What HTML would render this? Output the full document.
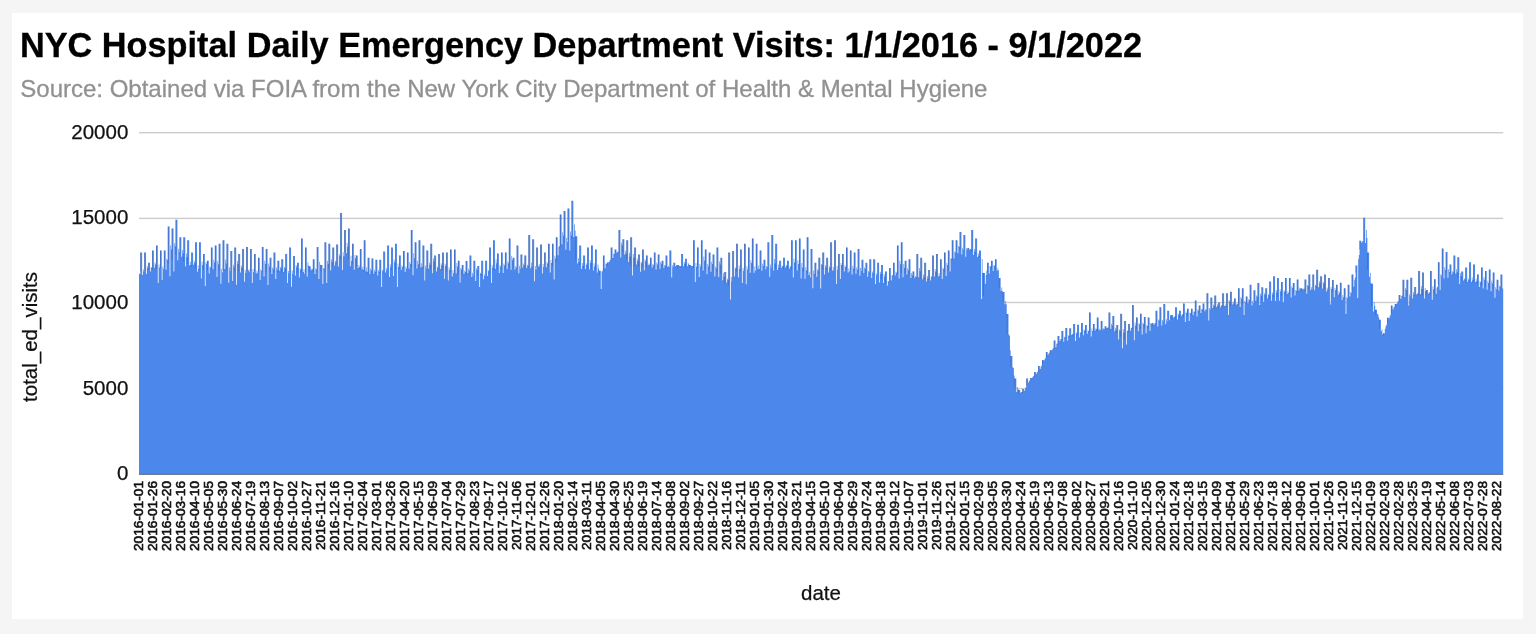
<!DOCTYPE html>
<html><head><meta charset="utf-8"><title>NYC Hospital Daily Emergency Department Visits</title>
<style>
html,body{margin:0;padding:0}
body{width:1536px;height:634px;background:#f5f5f5;overflow:hidden;position:relative;font-family:"Liberation Sans",Arial,sans-serif}
#panel{position:absolute;left:12px;top:13px;width:1510.5px;height:606px;background:#fff}
h1{position:absolute;left:19.9px;top:24.6px;-webkit-text-stroke:0.3px #000;margin:0;font-size:34.3px;line-height:40px;font-weight:bold;color:#000;white-space:nowrap}
h2{position:absolute;left:20.3px;top:73.7px;-webkit-text-stroke:0.3px #919191;margin:0;font-size:24px;line-height:30px;font-weight:normal;color:#919191;white-space:nowrap}
svg{position:absolute;left:0;top:0;filter:blur(0.45px)}
h1,h2{filter:blur(0.45px)}
svg text{font-family:"Liberation Sans",Arial,sans-serif}
</style></head><body>
<div id="panel"></div>
<h1>NYC Hospital Daily Emergency Department Visits: 1/1/2016 - 9/1/2022</h1>
<h2>Source: Obtained via FOIA from the New York City Department of Health &amp; Mental Hygiene</h2>
<svg width="1536" height="634" viewBox="0 0 1536 634">
<g><rect x="139" y="132.0" width="1364.2" height="1.4" fill="#ccc"/><rect x="139" y="217.7" width="1364.2" height="1.4" fill="#ccc"/><rect x="139" y="301.8" width="1364.2" height="1.4" fill="#ccc"/><rect x="139" y="387.9" width="1364.2" height="1.4" fill="#ccc"/></g>
<path fill="#4c87ec" d="M139.00 273.8H140.38V474.5H139.00zM140.38 252.6H142.13V474.5H140.38zM142.13 275.1H142.93V474.5H142.13zM142.93 269.3H143.62V474.5H142.93zM143.62 271.5H144.30V474.5H143.62zM144.30 252.6H146.05V474.5H144.30zM146.05 273.9H146.85V474.5H146.05zM146.85 266.0H147.54V474.5H146.85zM147.54 268.1H148.22V474.5H147.54zM148.22 262.8H149.97V474.5H148.22zM149.97 271.4H150.77V474.5H149.97zM150.77 267.1H151.46V474.5H150.77zM151.46 267.8H152.14V474.5H151.46zM152.14 250.5H153.89V474.5H152.14zM153.89 267.7H154.69V474.5H153.89zM154.69 262.4H155.38V474.5H154.69zM155.38 264.6H156.06V474.5H155.38zM156.06 245.4H157.81V474.5H156.06zM157.81 282.9H158.61V474.5H157.81zM158.61 264.5H159.30V474.5H158.61zM159.30 267.4H159.98V474.5H159.30zM159.98 250.5H161.73V474.5H159.98zM161.73 280.0H162.53V474.5H161.73zM162.53 266.6H163.22V474.5H162.53zM163.22 268.8H163.90V474.5H163.22zM163.90 250.5H165.65V474.5H163.90zM165.65 269.8H166.45V474.5H165.65zM166.45 258.8H167.14V474.5H166.45zM167.14 260.0H167.82V474.5H167.14zM167.82 226.5H169.57V474.5H167.82zM169.57 276.3H170.37V474.5H169.57zM170.37 245.6H171.06V474.5H170.37zM171.06 249.6H171.74V474.5H171.06zM171.74 228.6H173.49V474.5H171.74zM173.49 271.6H174.29V474.5H173.49zM174.29 243.3H174.98V474.5H174.29zM174.98 246.2H175.66V474.5H174.98zM175.66 219.7H177.41V474.5H175.66zM177.41 260.3H178.21V474.5H177.41zM178.21 248.7H178.90V474.5H178.21zM178.90 252.2H179.58V474.5H178.90zM179.58 237.2H181.33V474.5H179.58zM181.33 256.7H182.13V474.5H181.33zM182.13 250.0H182.82V474.5H182.13zM182.82 253.4H183.50V474.5H182.82zM183.50 237.2H185.25V474.5H183.50zM185.25 266.4H186.05V474.5H185.25zM186.05 253.4H186.74V474.5H186.05zM186.74 256.9H187.42V474.5H186.74zM187.42 240.3H189.17V474.5H187.42zM189.17 265.3H189.97V474.5H189.17zM189.97 261.7H190.66V474.5H189.97zM190.66 265.1H191.34V474.5H190.66zM191.34 252.6H193.09V474.5H191.34zM193.09 264.8H193.89V474.5H193.09zM193.89 260.8H194.58V474.5H193.89zM194.58 262.9H195.26V474.5H194.58zM195.26 242.3H197.01V474.5H195.26zM197.01 271.8H197.81V474.5H197.01zM197.81 265.2H198.50V474.5H197.81zM198.50 269.0H199.18V474.5H198.50zM199.18 242.3H200.93V474.5H199.18zM200.93 278.6H201.73V474.5H200.93zM201.73 261.5H202.42V474.5H201.73zM202.42 265.1H203.10V474.5H202.42zM203.10 254.0H204.85V474.5H203.10zM204.85 286.0H205.65V474.5H204.85zM205.65 261.8H206.34V474.5H205.65zM206.34 263.8H207.02V474.5H206.34zM207.02 260.8H208.77V474.5H207.02zM208.77 273.6H209.57V474.5H208.77zM209.57 266.4H210.26V474.5H209.57zM210.26 267.5H210.94V474.5H210.26zM210.94 247.4H212.69V474.5H210.94zM212.69 269.2H213.49V474.5H212.69zM213.49 259.7H214.18V474.5H213.49zM214.18 262.6H214.86V474.5H214.18zM214.86 245.4H216.61V474.5H214.86zM216.61 277.1H217.41V474.5H216.61zM217.41 261.1H218.10V474.5H217.41zM218.10 264.3H218.78V474.5H218.10zM218.78 243.7H220.53V474.5H218.78zM220.53 283.8H221.33V474.5H220.53zM221.33 268.9H222.02V474.5H221.33zM222.02 272.3H222.70V474.5H222.02zM222.70 240.3H224.45V474.5H222.70zM224.45 268.9H225.25V474.5H224.45zM225.25 259.4H225.94V474.5H225.25zM225.94 263.4H226.62V474.5H225.94zM226.62 243.7H228.37V474.5H226.62zM228.37 282.7H229.17V474.5H228.37zM229.17 267.2H229.86V474.5H229.17zM229.86 270.7H230.54V474.5H229.86zM230.54 250.9H232.29V474.5H230.54zM232.29 281.1H233.09V474.5H232.29zM233.09 264.8H233.78V474.5H233.09zM233.78 267.3H234.46V474.5H233.78zM234.46 247.4H236.21V474.5H234.46zM236.21 284.7H237.01V474.5H236.21zM237.01 260.9H237.70V474.5H237.01zM237.70 263.9H238.38V474.5H237.70zM238.38 254.0H240.13V474.5H238.38zM240.13 272.6H240.93V474.5H240.13zM240.93 265.6H241.62V474.5H240.93zM241.62 267.7H242.30V474.5H241.62zM242.30 249.1H244.05V474.5H242.30zM244.05 281.8H244.85V474.5H244.05zM244.85 269.9H245.54V474.5H244.85zM245.54 272.7H246.22V474.5H245.54zM246.22 247.0H247.97V474.5H246.22zM247.97 270.5H248.77V474.5H247.97zM248.77 269.2H249.46V474.5H248.77zM249.46 272.3H250.14V474.5H249.46zM250.14 249.1H251.89V474.5H250.14zM251.89 283.0H252.69V474.5H251.89zM252.69 269.1H253.38V474.5H252.69zM253.38 272.0H254.06V474.5H253.38zM254.06 254.0H255.81V474.5H254.06zM255.81 273.4H256.61V474.5H255.81zM256.61 270.4H257.30V474.5H256.61zM257.30 272.7H257.98V474.5H257.30zM257.98 257.7H259.73V474.5H257.98zM259.73 280.0H260.53V474.5H259.73zM260.53 269.2H261.22V474.5H260.53zM261.22 270.9H261.90V474.5H261.22zM261.90 247.0H263.65V474.5H261.90zM263.65 276.4H264.45V474.5H263.65zM264.45 260.8H265.14V474.5H264.45zM265.14 264.0H265.82V474.5H265.14zM265.82 249.1H267.57V474.5H265.82zM267.57 284.9H268.37V474.5H267.57zM268.37 263.4H269.06V474.5H268.37zM269.06 266.4H269.74V474.5H269.06zM269.74 257.7H271.49V474.5H269.74zM271.49 274.0H272.29V474.5H271.49zM272.29 267.5H272.98V474.5H272.29zM272.98 269.3H273.66V474.5H272.98zM273.66 252.6H275.41V474.5H273.66zM275.41 279.0H276.21V474.5H275.41zM276.21 267.5H276.90V474.5H276.21zM276.90 270.0H277.58V474.5H276.90zM277.58 260.8H279.33V474.5H277.58zM279.33 270.8H280.13V474.5H279.33zM280.13 267.0H280.82V474.5H280.13zM280.82 268.3H281.50V474.5H280.82zM281.50 259.3H283.25V474.5H281.50zM283.25 272.0H284.05V474.5H283.25zM284.05 267.0H284.74V474.5H284.05zM284.74 268.6H285.42V474.5H284.74zM285.42 254.0H287.17V474.5H285.42zM287.17 283.0H287.97V474.5H287.17zM287.97 270.9H288.66V474.5H287.97zM288.66 273.3H289.34V474.5H288.66zM289.34 247.4H291.09V474.5H289.34zM291.09 286.8H291.89V474.5H291.09zM291.89 270.4H292.58V474.5H291.89zM292.58 273.7H293.26V474.5H292.58zM293.26 256.1H295.01V474.5H293.26zM295.01 275.4H295.81V474.5H295.01zM295.81 265.1H296.50V474.5H295.81zM296.50 267.2H297.18V474.5H296.50zM297.18 262.8H298.93V474.5H297.18zM298.93 277.4H299.73V474.5H298.93zM299.73 268.3H300.42V474.5H299.73zM300.42 269.4H301.10V474.5H300.42zM301.10 238.6H302.85V474.5H301.10zM302.85 272.0H303.65V474.5H302.85zM303.65 269.2H304.34V474.5H303.65zM304.34 273.7H305.02V474.5H304.34zM305.02 247.4H306.77V474.5H305.02zM306.77 276.7H307.57V474.5H306.77zM307.57 262.2H308.26V474.5H307.57zM308.26 265.4H308.94V474.5H308.26zM308.94 266.3H310.69V474.5H308.94zM310.69 270.2H311.49V474.5H310.69zM311.49 268.8H312.18V474.5H311.49zM312.18 269.3H312.87V474.5H312.18zM312.87 259.3H314.62V474.5H312.87zM314.62 274.1H315.42V474.5H314.62zM315.42 268.2H316.10V474.5H315.42zM316.10 269.6H316.79V474.5H316.10zM316.79 247.0H318.54V474.5H316.79zM318.54 279.1H319.34V474.5H318.54zM319.34 261.7H320.02V474.5H319.34zM320.02 264.8H320.71V474.5H320.02zM320.71 264.9H322.46V474.5H320.71zM322.46 284.0H323.26V474.5H322.46zM323.26 268.1H323.94V474.5H323.26zM323.94 268.7H324.63V474.5H323.94zM324.63 242.3H326.38V474.5H324.63zM326.38 283.1H327.18V474.5H326.38zM327.18 260.8H327.86V474.5H327.18zM327.86 263.9H328.55V474.5H327.86zM328.55 243.7H330.30V474.5H328.55zM330.30 270.6H331.10V474.5H330.30zM331.10 259.3H331.78V474.5H331.10zM331.78 262.0H332.47V474.5H331.78zM332.47 247.4H334.22V474.5H332.47zM334.22 265.5H335.02V474.5H334.22zM335.02 260.8H335.70V474.5H335.02zM335.70 262.6H336.39V474.5H335.70zM336.39 244.4H338.14V474.5H336.39zM338.14 266.6H338.94V474.5H338.14zM338.94 254.3H339.62V474.5H338.94zM339.62 256.2H340.31V474.5H339.62zM340.31 213.0H342.06V474.5H340.31zM342.06 270.1H342.86V474.5H342.06zM342.86 252.2H343.54V474.5H342.86zM343.54 256.3H344.23V474.5H343.54zM344.23 230.0H345.98V474.5H344.23zM345.98 253.3H346.78V474.5H345.98zM346.78 242.8H347.46V474.5H346.78zM347.46 246.8H348.15V474.5H347.46zM348.15 228.6H349.90V474.5H348.15zM349.90 266.3H350.70V474.5H349.90zM350.70 255.8H351.38V474.5H350.70zM351.38 261.0H352.07V474.5H351.38zM352.07 243.7H353.82V474.5H352.07zM353.82 269.8H354.62V474.5H353.82zM354.62 254.9H355.30V474.5H354.62zM355.30 258.0H355.99V474.5H355.30zM355.99 255.6H357.74V474.5H355.99zM357.74 268.1H358.54V474.5H357.74zM358.54 265.1H359.22V474.5H358.54zM359.22 266.9H359.91V474.5H359.22zM359.91 249.1H361.66V474.5H359.91zM361.66 269.3H362.46V474.5H361.66zM362.46 266.8H363.14V474.5H362.46zM363.14 269.8H363.83V474.5H363.14zM363.83 240.3H365.58V474.5H363.83zM365.58 271.6H366.38V474.5H365.58zM366.38 267.2H367.06V474.5H366.38zM367.06 271.8H367.75V474.5H367.06zM367.75 257.7H369.50V474.5H367.75zM369.50 273.9H370.30V474.5H369.50zM370.30 268.6H370.98V474.5H370.30zM370.98 270.6H371.67V474.5H370.98zM371.67 258.5H373.42V474.5H371.67zM373.42 273.7H374.22V474.5H373.42zM374.22 269.8H374.90V474.5H374.22zM374.90 271.7H375.59V474.5H374.90zM375.59 259.7H377.34V474.5H375.59zM377.34 275.6H378.14V474.5H377.34zM378.14 270.0H378.82V474.5H378.14zM378.82 271.8H379.51V474.5H378.82zM379.51 259.7H381.26V474.5H379.51zM381.26 287.0H382.06V474.5H381.26zM382.06 269.8H382.74V474.5H382.06zM382.74 271.2H383.43V474.5H382.74zM383.43 251.5H385.18V474.5H383.43zM385.18 272.4H385.98V474.5H385.18zM385.98 268.0H386.66V474.5H385.98zM386.66 270.2H387.35V474.5H386.66zM387.35 245.4H389.10V474.5H387.35zM389.10 277.0H389.90V474.5H389.10zM389.90 264.3H390.58V474.5H389.90zM390.58 267.4H391.27V474.5H390.58zM391.27 247.4H393.02V474.5H391.27zM393.02 275.9H393.82V474.5H393.02zM393.82 259.5H394.50V474.5H393.82zM394.50 262.3H395.19V474.5H394.50zM395.19 243.7H396.94V474.5H395.19zM396.94 287.0H397.74V474.5H396.94zM397.74 263.6H398.42V474.5H397.74zM398.42 266.9H399.11V474.5H398.42zM399.11 255.6H400.86V474.5H399.11zM400.86 269.8H401.66V474.5H400.86zM401.66 265.6H402.34V474.5H401.66zM402.34 267.1H403.03V474.5H402.34zM403.03 250.9H404.78V474.5H403.03zM404.78 272.0H405.58V474.5H404.78zM405.58 266.4H406.26V474.5H405.58zM406.26 268.5H406.95V474.5H406.26zM406.95 252.6H408.70V474.5H406.95zM408.70 268.8H409.50V474.5H408.70zM409.50 262.0H410.18V474.5H409.50zM410.18 263.9H410.87V474.5H410.18zM410.87 230.0H412.62V474.5H410.87zM412.62 275.2H413.42V474.5H412.62zM413.42 253.2H414.10V474.5H413.42zM414.10 258.3H414.79V474.5H414.10zM414.79 242.3H416.54V474.5H414.79zM416.54 268.6H417.34V474.5H416.54zM417.34 260.8H418.02V474.5H417.34zM418.02 264.2H418.71V474.5H418.02zM418.71 240.3H420.46V474.5H418.71zM420.46 267.6H421.26V474.5H420.46zM421.26 263.2H421.94V474.5H421.26zM421.94 266.9H422.63V474.5H421.94zM422.63 245.4H424.38V474.5H422.63zM424.38 280.4H425.18V474.5H424.38zM425.18 265.4H425.86V474.5H425.18zM425.86 268.4H426.55V474.5H425.86zM426.55 250.5H428.30V474.5H426.55zM428.30 268.8H429.10V474.5H428.30zM429.10 262.5H429.78V474.5H429.10zM429.78 264.8H430.47V474.5H429.78zM430.47 243.7H432.22V474.5H430.47zM432.22 273.2H433.02V474.5H432.22zM433.02 258.2H433.70V474.5H433.02zM433.70 261.4H434.39V474.5H433.70zM434.39 255.6H436.14V474.5H434.39zM436.14 271.5H436.94V474.5H436.14zM436.94 266.5H437.62V474.5H436.94zM437.62 268.1H438.31V474.5H437.62zM438.31 254.0H440.06V474.5H438.31zM440.06 269.0H440.86V474.5H440.06zM440.86 263.3H441.54V474.5H440.86zM441.54 265.4H442.23V474.5H441.54zM442.23 252.6H443.98V474.5H442.23zM443.98 278.8H444.78V474.5H443.98zM444.78 263.7H445.46V474.5H444.78zM445.46 266.1H446.15V474.5H445.46zM446.15 252.6H447.90V474.5H446.15zM447.90 280.6H448.70V474.5H447.90zM448.70 267.3H449.38V474.5H448.70zM449.38 269.9H450.07V474.5H449.38zM450.07 249.5H451.82V474.5H450.07zM451.82 276.6H452.62V474.5H451.82zM452.62 270.1H453.30V474.5H452.62zM453.30 273.3H453.99V474.5H453.30zM453.99 249.5H455.74V474.5H453.99zM455.74 273.4H456.54V474.5H455.74zM456.54 263.0H457.22V474.5H456.54zM457.22 266.4H457.91V474.5H457.22zM457.91 260.8H459.66V474.5H457.91zM459.66 282.4H460.46V474.5H459.66zM460.46 267.9H461.14V474.5H460.46zM461.14 269.6H461.83V474.5H461.14zM461.83 264.9H463.58V474.5H461.83zM463.58 273.9H464.38V474.5H463.58zM464.38 270.8H465.06V474.5H464.38zM465.06 272.0H465.75V474.5H465.06zM465.75 261.1H467.50V474.5H465.75zM467.50 273.3H468.30V474.5H467.50zM468.30 268.7H468.98V474.5H468.30zM468.98 270.5H469.67V474.5H468.98zM469.67 255.6H471.42V474.5H469.67zM471.42 277.1H472.22V474.5H471.42zM472.22 272.7H472.90V474.5H472.22zM472.90 275.3H473.59V474.5H472.90zM473.59 260.8H475.34V474.5H473.59zM475.34 281.1H476.14V474.5H475.34zM476.14 268.3H476.82V474.5H476.14zM476.82 270.1H477.51V474.5H476.82zM477.51 265.9H479.26V474.5H477.51zM479.26 287.0H480.06V474.5H479.26zM480.06 272.7H480.74V474.5H480.06zM480.74 273.8H481.43V474.5H480.74zM481.43 260.8H483.18V474.5H481.43zM483.18 279.2H483.98V474.5H483.18zM483.98 274.2H484.67V474.5H483.98zM484.67 276.1H485.35V474.5H484.67zM485.35 260.8H487.10V474.5H485.35zM487.10 276.0H487.90V474.5H487.10zM487.90 269.9H488.59V474.5H487.90zM488.59 271.2H489.27V474.5H488.59zM489.27 247.4H491.02V474.5H489.27zM491.02 283.0H491.82V474.5H491.02zM491.82 265.0H492.51V474.5H491.82zM492.51 267.8H493.19V474.5H492.51zM493.19 240.3H494.94V474.5H493.19zM494.94 268.7H495.74V474.5H494.94zM495.74 259.3H496.43V474.5H495.74zM496.43 263.2H497.11V474.5H496.43zM497.11 253.6H498.86V474.5H497.11zM498.86 272.9H499.66V474.5H498.86zM499.66 264.9H500.35V474.5H499.66zM500.35 266.8H501.03V474.5H500.35zM501.03 252.6H502.78V474.5H501.03zM502.78 273.1H503.58V474.5H502.78zM503.58 263.6H504.27V474.5H503.58zM504.27 265.6H504.95V474.5H504.27zM504.95 252.6H506.70V474.5H504.95zM506.70 269.0H507.50V474.5H506.70zM507.50 261.2H508.19V474.5H507.50zM508.19 263.2H508.87V474.5H508.19zM508.87 238.6H510.62V474.5H508.87zM510.62 269.8H511.42V474.5H510.62zM511.42 256.1H512.11V474.5H511.42zM512.11 259.9H512.79V474.5H512.11zM512.79 257.7H514.54V474.5H512.79zM514.54 269.5H515.34V474.5H514.54zM515.34 266.3H516.03V474.5H515.34zM516.03 267.5H516.71V474.5H516.03zM516.71 245.4H518.46V474.5H516.71zM518.46 273.2H519.26V474.5H518.46zM519.26 265.7H519.95V474.5H519.26zM519.95 268.5H520.63V474.5H519.95zM520.63 254.6H522.38V474.5H520.63zM522.38 267.4H523.18V474.5H522.38zM523.18 263.4H523.87V474.5H523.18zM523.87 264.9H524.55V474.5H523.87zM524.55 255.6H526.30V474.5H524.55zM526.30 268.1H527.10V474.5H526.30zM527.10 264.7H527.79V474.5H527.10zM527.79 266.0H528.47V474.5H527.79zM528.47 235.1H530.22V474.5H528.47zM530.22 268.3H531.02V474.5H530.22zM531.02 262.5H531.71V474.5H531.02zM531.71 266.7H532.39V474.5H531.71zM532.39 239.2H534.14V474.5H532.39zM534.14 281.2H534.94V474.5H534.14zM534.94 265.9H535.63V474.5H534.94zM535.63 269.5H536.31V474.5H535.63zM536.31 247.4H538.06V474.5H536.31zM538.06 266.4H538.86V474.5H538.06zM538.86 263.9H539.55V474.5H538.86zM539.55 266.3H540.23V474.5H539.55zM540.23 244.4H541.98V474.5H540.23zM541.98 273.5H542.78V474.5H541.98zM542.78 264.1H543.47V474.5H542.78zM543.47 266.9H544.15V474.5H543.47zM544.15 252.6H545.90V474.5H544.15zM545.90 267.2H546.70V474.5H545.90zM546.70 261.8H547.39V474.5H546.70zM547.39 263.4H548.07V474.5H547.39zM548.07 243.7H549.82V474.5H548.07zM549.82 272.4H550.62V474.5H549.82zM550.62 260.0H551.31V474.5H550.62zM551.31 262.9H551.99V474.5H551.31zM551.99 243.7H553.74V474.5H551.99zM553.74 279.4H554.54V474.5H553.74zM554.54 255.7H555.23V474.5H554.54zM555.23 258.5H555.91V474.5H555.23zM555.91 237.2H557.66V474.5H555.91zM557.66 255.2H558.46V474.5H557.66zM558.46 246.7H559.15V474.5H558.46zM559.15 245.9H559.83V474.5H559.15zM559.83 214.6H561.58V474.5H559.83zM561.58 244.3H562.38V474.5H561.58zM562.38 232.2H563.07V474.5H562.38zM563.07 235.4H563.75V474.5H563.07zM563.75 211.1H565.50V474.5H563.75zM565.50 249.7H566.30V474.5H565.50zM566.30 237.8H566.99V474.5H566.30zM566.99 241.4H567.67V474.5H566.99zM567.67 208.5H569.42V474.5H567.67zM569.42 250.5H570.22V474.5H569.42zM570.22 231.5H570.91V474.5H570.22zM570.91 235.4H571.59V474.5H570.91zM571.59 200.7H573.34V474.5H571.59zM573.34 236.9H574.14V474.5H573.34zM574.14 224.3H574.83V474.5H574.14zM574.83 230.4H575.51V474.5H574.83zM575.51 236.2H577.26V474.5H575.51zM577.26 263.4H578.06V474.5H577.26zM578.06 258.3H578.75V474.5H578.06zM578.75 262.0H579.43V474.5H578.75zM579.43 245.4H581.18V474.5H579.43zM581.18 269.0H581.98V474.5H581.18zM581.98 263.1H582.67V474.5H581.98zM582.67 266.2H583.35V474.5H582.67zM583.35 255.6H585.10V474.5H583.35zM585.10 269.0H585.90V474.5H585.10zM585.90 263.5H586.59V474.5H585.90zM586.59 265.1H587.27V474.5H586.59zM587.27 247.4H589.02V474.5H587.27zM589.02 269.3H589.82V474.5H589.02zM589.82 260.2H590.51V474.5H589.82zM590.51 263.0H591.19V474.5H590.51zM591.19 245.4H592.94V474.5H591.19zM592.94 270.5H593.74V474.5H592.94zM593.74 263.3H594.43V474.5H593.74zM594.43 266.4H595.11V474.5H594.43zM595.11 249.5H596.86V474.5H595.11zM596.86 272.5H597.66V474.5H596.86zM597.66 264.6H598.35V474.5H597.66zM598.35 268.6H599.03V474.5H598.35zM599.03 270.8H600.78V474.5H599.03zM600.78 289.0H601.58V474.5H600.78zM601.58 271.4H602.27V474.5H601.58zM602.27 270.7H602.95V474.5H602.27zM602.95 255.6H604.70V474.5H602.95zM604.70 268.3H605.50V474.5H604.70zM605.50 263.4H606.19V474.5H605.50zM606.19 264.0H606.87V474.5H606.19zM606.87 262.6H608.62V474.5H606.87zM608.62 261.9H609.42V474.5H608.62zM609.42 260.5H610.11V474.5H609.42zM610.11 259.7H610.79V474.5H610.11zM610.79 247.4H612.54V474.5H610.79zM612.54 258.1H613.34V474.5H612.54zM613.34 253.7H614.03V474.5H613.34zM614.03 253.9H614.71V474.5H614.03zM614.71 249.5H616.46V474.5H614.71zM616.46 252.8H617.26V474.5H616.46zM617.26 251.7H617.95V474.5H617.26zM617.95 251.8H618.63V474.5H617.95zM618.63 230.0H620.38V474.5H618.63zM620.38 257.6H621.18V474.5H620.38zM621.18 242.8H621.87V474.5H621.18zM621.87 245.6H622.55V474.5H621.87zM622.55 239.2H624.30V474.5H622.55zM624.30 254.4H625.10V474.5H624.30zM625.10 250.8H625.79V474.5H625.10zM625.79 253.7H626.47V474.5H625.79zM626.47 240.3H628.22V474.5H626.47zM628.22 262.1H629.02V474.5H628.22zM629.02 252.7H629.71V474.5H629.02zM629.71 256.5H630.39V474.5H629.71zM630.39 237.2H632.14V474.5H630.39zM632.14 275.6H632.94V474.5H632.14zM632.94 253.9H633.63V474.5H632.94zM633.63 257.7H634.31V474.5H633.63zM634.31 247.4H636.06V474.5H634.31zM636.06 264.4H636.86V474.5H636.06zM636.86 258.5H637.55V474.5H636.86zM637.55 260.9H638.23V474.5H637.55zM638.23 254.6H639.98V474.5H638.23zM639.98 271.8H640.78V474.5H639.98zM640.78 261.8H641.47V474.5H640.78zM641.47 263.2H642.15V474.5H641.47zM642.15 249.5H643.90V474.5H642.15zM643.90 270.3H644.70V474.5H643.90zM644.70 258.9H645.39V474.5H644.70zM645.39 261.1H646.07V474.5H645.39zM646.07 255.6H647.82V474.5H646.07zM647.82 265.3H648.62V474.5H647.82zM648.62 263.4H649.31V474.5H648.62zM649.31 264.7H649.99V474.5H649.31zM649.99 257.7H651.74V474.5H649.99zM651.74 267.4H652.54V474.5H651.74zM652.54 264.1H653.23V474.5H652.54zM653.23 265.2H653.92V474.5H653.23zM653.92 252.6H655.67V474.5H653.92zM655.67 269.6H656.47V474.5H655.67zM656.47 262.6H657.15V474.5H656.47zM657.15 264.5H657.84V474.5H657.15zM657.84 254.6H659.59V474.5H657.84zM659.59 268.7H660.39V474.5H659.59zM660.39 262.1H661.07V474.5H660.39zM661.07 263.7H661.76V474.5H661.07zM661.76 260.8H663.51V474.5H661.76zM663.51 267.9H664.31V474.5H663.51zM664.31 265.0H664.99V474.5H664.31zM664.99 265.8H665.68V474.5H664.99zM665.68 255.6H667.43V474.5H665.68zM667.43 267.0H668.23V474.5H667.43zM668.23 265.7H668.91V474.5H668.23zM668.91 267.2H669.60V474.5H668.91zM669.60 250.5H671.35V474.5H669.60zM671.35 277.4H672.15V474.5H671.35zM672.15 265.2H672.83V474.5H672.15zM672.83 267.4H673.52V474.5H672.83zM673.52 262.8H675.27V474.5H673.52zM675.27 266.2H676.07V474.5H675.27zM676.07 265.1H676.75V474.5H676.07zM676.75 265.5H677.44V474.5H676.75zM677.44 264.9H679.19V474.5H677.44zM679.19 266.0H679.99V474.5H679.19zM679.99 266.0H680.67V474.5H679.99zM680.67 266.2H681.36V474.5H680.67zM681.36 254.0H683.11V474.5H681.36zM683.11 266.2H683.91V474.5H683.11zM683.91 262.1H684.59V474.5H683.91zM684.59 263.8H685.28V474.5H684.59zM685.28 258.7H687.03V474.5H685.28zM687.03 266.3H687.83V474.5H687.03zM687.83 263.1H688.51V474.5H687.83zM688.51 264.2H689.20V474.5H688.51zM689.20 265.0H690.95V474.5H689.20zM690.95 266.1H691.75V474.5H690.95zM691.75 265.9H692.43V474.5H691.75zM692.43 266.1H693.12V474.5H692.43zM693.12 240.3H694.87V474.5H693.12zM694.87 282.0H695.67V474.5H694.87zM695.67 263.1H696.35V474.5H695.67zM696.35 266.7H697.04V474.5H696.35zM697.04 247.4H698.79V474.5H697.04zM698.79 277.1H699.59V474.5H698.79zM699.59 263.9H700.27V474.5H699.59zM700.27 266.6H700.96V474.5H700.27zM700.96 240.3H702.71V474.5H700.96zM702.71 270.4H703.51V474.5H702.71zM703.51 256.6H704.19V474.5H703.51zM704.19 260.4H704.88V474.5H704.19zM704.88 249.5H706.63V474.5H704.88zM706.63 274.2H707.43V474.5H706.63zM707.43 263.9H708.11V474.5H707.43zM708.11 266.5H708.80V474.5H708.11zM708.80 252.6H710.55V474.5H708.80zM710.55 271.8H711.35V474.5H710.55zM711.35 261.8H712.03V474.5H711.35zM712.03 264.1H712.72V474.5H712.03zM712.72 254.6H714.47V474.5H712.72zM714.47 276.6H715.27V474.5H714.47zM715.27 266.4H715.95V474.5H715.27zM715.95 268.5H716.64V474.5H715.95zM716.64 247.4H718.39V474.5H716.64zM718.39 276.9H719.19V474.5H718.39zM719.19 261.4H719.87V474.5H719.19zM719.87 264.6H720.56V474.5H719.87zM720.56 257.7H722.31V474.5H720.56zM722.31 280.3H723.11V474.5H722.31zM723.11 273.0H723.79V474.5H723.11zM723.79 276.6H724.48V474.5H723.79zM724.48 272.1H726.23V474.5H724.48zM726.23 282.4H727.03V474.5H726.23zM727.03 278.4H727.71V474.5H727.03zM727.71 280.0H728.40V474.5H727.71zM728.40 252.6H730.15V474.5H728.40zM730.15 299.4H730.95V474.5H730.15zM730.95 277.0H731.63V474.5H730.95zM731.63 281.6H732.32V474.5H731.63zM732.32 250.9H734.07V474.5H732.32zM734.07 276.5H734.87V474.5H734.07zM734.87 267.6H735.55V474.5H734.87zM735.55 268.6H736.24V474.5H735.55zM736.24 243.7H737.99V474.5H736.24zM737.99 277.5H738.79V474.5H737.99zM738.79 265.6H739.47V474.5H738.79zM739.47 269.1H740.16V474.5H739.47zM740.16 249.5H741.91V474.5H740.16zM741.91 283.0H742.71V474.5H741.91zM742.71 268.1H743.39V474.5H742.71zM743.39 270.8H744.08V474.5H743.39zM744.08 243.7H745.83V474.5H744.08zM745.83 284.3H746.63V474.5H745.83zM746.63 266.1H747.31V474.5H746.63zM747.31 269.4H748.00V474.5H747.31zM748.00 247.4H749.75V474.5H748.00zM749.75 272.7H750.55V474.5H749.75zM750.55 260.2H751.23V474.5H750.55zM751.23 262.9H751.92V474.5H751.23zM751.92 238.6H753.67V474.5H751.92zM753.67 272.8H754.47V474.5H753.67zM754.47 266.5H755.15V474.5H754.47zM755.15 270.4H755.84V474.5H755.15zM755.84 243.7H757.59V474.5H755.84zM757.59 268.7H758.39V474.5H757.59zM758.39 265.6H759.07V474.5H758.39zM759.07 268.7H759.76V474.5H759.07zM759.76 250.5H761.51V474.5H759.76zM761.51 270.8H762.31V474.5H761.51zM762.31 263.8H762.99V474.5H762.31zM762.99 266.0H763.68V474.5H762.99zM763.68 259.7H765.43V474.5H763.68zM765.43 269.2H766.23V474.5H765.43zM766.23 266.0H766.91V474.5H766.23zM766.91 266.9H767.60V474.5H766.91zM767.60 242.3H769.35V474.5H767.60zM769.35 276.8H770.15V474.5H769.35zM770.15 264.5H770.83V474.5H770.15zM770.83 267.9H771.52V474.5H770.83zM771.52 235.1H773.27V474.5H771.52zM773.27 270.5H774.07V474.5H773.27zM774.07 259.0H774.75V474.5H774.07zM774.75 263.4H775.44V474.5H774.75zM775.44 243.7H777.19V474.5H775.44zM777.19 269.9H777.99V474.5H777.19zM777.99 264.5H778.67V474.5H777.99zM778.67 267.7H779.36V474.5H778.67zM779.36 260.8H781.11V474.5H779.36zM781.11 267.8H781.91V474.5H781.11zM781.91 265.6H782.59V474.5H781.91zM782.59 266.5H783.28V474.5H782.59zM783.28 257.7H785.03V474.5H783.28zM785.03 267.4H785.83V474.5H785.03zM785.83 264.7H786.51V474.5H785.83zM786.51 266.0H787.20V474.5H786.51zM787.20 260.8H788.95V474.5H787.20zM788.95 268.8H789.75V474.5H788.95zM789.75 265.7H790.43V474.5H789.75zM790.43 266.7H791.12V474.5H790.43zM791.12 240.3H792.87V474.5H791.12zM792.87 277.4H793.67V474.5H792.87zM793.67 258.7H794.35V474.5H793.67zM794.35 262.6H795.04V474.5H794.35zM795.04 240.3H796.79V474.5H795.04zM796.79 270.6H797.59V474.5H796.79zM797.59 260.2H798.27V474.5H797.59zM798.27 264.1H798.96V474.5H798.27zM798.96 238.6H800.71V474.5H798.96zM800.71 278.6H801.51V474.5H800.71zM801.51 263.1H802.19V474.5H801.51zM802.19 267.5H802.88V474.5H802.19zM802.88 249.5H804.63V474.5H802.88zM804.63 278.8H805.43V474.5H804.63zM805.43 267.3H806.11V474.5H805.43zM806.11 270.3H806.80V474.5H806.11zM806.80 237.2H808.55V474.5H806.80zM808.55 274.9H809.35V474.5H808.55zM809.35 272.3H810.03V474.5H809.35zM810.03 277.2H810.72V474.5H810.03zM810.72 249.1H812.47V474.5H810.72zM812.47 288.3H813.27V474.5H812.47zM813.27 270.6H813.95V474.5H813.27zM813.95 274.0H814.64V474.5H813.95zM814.64 262.8H816.39V474.5H814.64zM816.39 276.8H817.19V474.5H816.39zM817.19 269.3H817.87V474.5H817.19zM817.87 270.7H818.56V474.5H817.87zM818.56 257.7H820.31V474.5H818.56zM820.31 288.5H821.11V474.5H820.31zM821.11 264.1H821.79V474.5H821.11zM821.79 265.0H822.48V474.5H821.79zM822.48 252.6H824.23V474.5H822.48zM824.23 274.6H825.03V474.5H824.23zM825.03 265.3H825.72V474.5H825.03zM825.72 267.4H826.40V474.5H825.72zM826.40 257.7H828.15V474.5H826.40zM828.15 272.6H828.95V474.5H828.15zM828.95 266.3H829.64V474.5H828.95zM829.64 267.7H830.32V474.5H829.64zM830.32 242.3H832.07V474.5H830.32zM832.07 270.5H832.87V474.5H832.07zM832.87 266.7H833.56V474.5H832.87zM833.56 270.3H834.24V474.5H833.56zM834.24 240.3H835.99V474.5H834.24zM835.99 284.0H836.79V474.5H835.99zM836.79 265.9H837.48V474.5H836.79zM837.48 269.8H838.16V474.5H837.48zM838.16 254.0H839.91V474.5H838.16zM839.91 279.0H840.71V474.5H839.91zM840.71 262.9H841.40V474.5H840.71zM841.40 264.9H842.08V474.5H841.40zM842.08 254.0H843.83V474.5H842.08zM843.83 271.4H844.63V474.5H843.83zM844.63 265.2H845.32V474.5H844.63zM845.32 267.1H846.00V474.5H845.32zM846.00 247.4H847.75V474.5H846.00zM847.75 272.4H848.55V474.5H847.75zM848.55 268.3H849.24V474.5H848.55zM849.24 271.2H849.92V474.5H849.24zM849.92 250.5H851.67V474.5H849.92zM851.67 274.4H852.47V474.5H851.67zM852.47 265.8H853.16V474.5H852.47zM853.16 268.5H853.84V474.5H853.16zM853.84 252.6H855.59V474.5H853.84zM855.59 273.7H856.39V474.5H855.59zM856.39 267.3H857.08V474.5H856.39zM857.08 269.7H857.76V474.5H857.08zM857.76 249.1H859.51V474.5H857.76zM859.51 275.7H860.31V474.5H859.51zM860.31 268.1H861.00V474.5H860.31zM861.00 271.2H861.68V474.5H861.00zM861.68 259.7H863.43V474.5H861.68zM863.43 273.0H864.23V474.5H863.43zM864.23 267.4H864.92V474.5H864.23zM864.92 269.0H865.60V474.5H864.92zM865.60 262.8H867.35V474.5H865.60zM867.35 276.7H868.15V474.5H867.35zM868.15 271.0H868.84V474.5H868.15zM868.84 272.4H869.52V474.5H868.84zM869.52 259.3H871.27V474.5H869.52zM871.27 277.9H872.07V474.5H871.27zM872.07 271.4H872.76V474.5H872.07zM872.76 273.4H873.44V474.5H872.76zM873.44 259.3H875.19V474.5H873.44zM875.19 284.1H875.99V474.5H875.19zM875.99 273.5H876.68V474.5H875.99zM876.68 275.5H877.36V474.5H876.68zM877.36 262.8H879.11V474.5H877.36zM879.11 282.5H879.91V474.5H879.11zM879.91 271.7H880.60V474.5H879.91zM880.60 273.9H881.28V474.5H880.60zM881.28 264.9H883.03V474.5H881.28zM883.03 283.1H883.83V474.5H883.03zM883.83 274.1H884.52V474.5H883.83zM884.52 276.5H885.20V474.5H884.52zM885.20 271.4H886.95V474.5H885.20zM886.95 285.7H887.75V474.5H886.95zM887.75 280.9H888.44V474.5H887.75zM888.44 281.2H889.12V474.5H888.44zM889.12 267.9H890.87V474.5H889.12zM890.87 280.6H891.67V474.5H890.87zM891.67 275.2H892.36V474.5H891.67zM892.36 275.3H893.04V474.5H892.36zM893.04 262.8H894.79V474.5H893.04zM894.79 275.6H895.59V474.5H894.79zM895.59 271.6H896.28V474.5H895.59zM896.28 272.8H896.96V474.5H896.28zM896.96 245.4H898.71V474.5H896.96zM898.71 278.6H899.51V474.5H898.71zM899.51 260.7H900.20V474.5H899.51zM900.20 264.2H900.88V474.5H900.20zM900.88 242.3H902.63V474.5H900.88zM902.63 277.2H903.43V474.5H902.63zM903.43 264.0H904.12V474.5H903.43zM904.12 267.7H904.80V474.5H904.12zM904.80 260.8H906.55V474.5H904.80zM906.55 274.5H907.35V474.5H906.55zM907.35 268.3H908.04V474.5H907.35zM908.04 270.2H908.72V474.5H908.04zM908.72 259.3H910.47V474.5H908.72zM910.47 277.9H911.27V474.5H910.47zM911.27 273.0H911.96V474.5H911.27zM911.96 275.4H912.64V474.5H911.96zM912.64 271.4H914.39V474.5H912.64zM914.39 277.9H915.19V474.5H914.39zM915.19 276.1H915.88V474.5H915.19zM915.88 276.9H916.56V474.5H915.88zM916.56 254.0H918.31V474.5H916.56zM918.31 277.3H919.11V474.5H918.31zM919.11 267.9H919.80V474.5H919.11zM919.80 271.2H920.48V474.5H919.80zM920.48 257.7H922.23V474.5H920.48zM922.23 279.3H923.03V474.5H922.23zM923.03 274.4H923.72V474.5H923.03zM923.72 277.2H924.40V474.5H923.72zM924.40 262.8H926.15V474.5H924.40zM926.15 281.5H926.95V474.5H926.15zM926.95 276.0H927.64V474.5H926.95zM927.64 278.2H928.32V474.5H927.64zM928.32 270.0H930.07V474.5H928.32zM930.07 280.4H930.87V474.5H930.07zM930.87 276.3H931.56V474.5H930.87zM931.56 277.1H932.24V474.5H931.56zM932.24 255.6H933.99V474.5H932.24zM933.99 276.4H934.79V474.5H933.99zM934.79 269.0H935.48V474.5H934.79zM935.48 271.5H936.16V474.5H935.48zM936.16 254.0H937.91V474.5H936.16zM937.91 276.6H938.71V474.5H937.91zM938.71 273.1H939.40V474.5H938.71zM939.40 275.5H940.08V474.5H939.40zM940.08 259.3H941.83V474.5H940.08zM941.83 278.9H942.63V474.5H941.83zM942.63 267.6H943.32V474.5H942.63zM943.32 269.0H944.00V474.5H943.32zM944.00 252.6H945.75V474.5H944.00zM945.75 276.1H946.55V474.5H945.75zM946.55 262.8H947.24V474.5H946.55zM947.24 264.9H947.92V474.5H947.24zM947.92 250.5H949.67V474.5H947.92zM949.67 271.4H950.47V474.5H949.67zM950.47 258.5H951.16V474.5H950.47zM951.16 258.4H951.84V474.5H951.16zM951.84 240.3H953.59V474.5H951.84zM953.59 258.6H954.39V474.5H953.59zM954.39 251.4H955.08V474.5H954.39zM955.08 252.6H955.76V474.5H955.08zM955.76 240.3H957.51V474.5H955.76zM957.51 253.2H958.31V474.5H957.51zM958.31 246.1H959.00V474.5H958.31zM959.00 246.7H959.68V474.5H959.00zM959.68 232.1H961.43V474.5H959.68zM961.43 254.5H962.23V474.5H961.43zM962.23 247.7H962.92V474.5H962.23zM962.92 250.1H963.60V474.5H962.92zM963.60 235.1H965.35V474.5H963.60zM965.35 256.7H966.15V474.5H965.35zM966.15 248.2H966.84V474.5H966.15zM966.84 250.2H967.52V474.5H966.84zM967.52 248.1H969.27V474.5H967.52zM969.27 249.8H970.07V474.5H969.27zM970.07 249.0H970.76V474.5H970.07zM970.76 249.2H971.44V474.5H970.76zM971.44 230.0H973.19V474.5H971.44zM973.19 255.1H973.99V474.5H973.19zM973.99 248.9H974.68V474.5H973.99zM974.68 251.8H975.36V474.5H974.68zM975.36 238.6H977.11V474.5H975.36zM977.11 257.1H977.91V474.5H977.11zM977.91 253.3H978.60V474.5H977.91zM978.60 255.8H979.28V474.5H978.60zM979.28 250.5H981.03V474.5H979.28zM981.03 299.0H981.83V474.5H981.03zM981.83 258.9H982.52V474.5H981.83zM982.52 272.7H983.20V474.5H982.52zM983.20 273.1H984.95V474.5H983.20zM984.95 283.7H985.75V474.5H984.95zM985.75 274.9H986.44V474.5H985.75zM986.44 270.7H987.12V474.5H986.44zM987.12 262.8H988.87V474.5H987.12zM988.87 273.4H989.67V474.5H988.87zM989.67 266.1H990.36V474.5H989.67zM990.36 266.6H991.04V474.5H990.36zM991.04 260.8H992.79V474.5H991.04zM992.79 271.1H993.59V474.5H992.79zM993.59 265.3H994.28V474.5H993.59zM994.28 265.8H994.97V474.5H994.28zM994.97 259.3H996.72V474.5H994.97zM996.72 270.6H997.52V474.5H996.72zM997.52 268.3H998.20V474.5H997.52zM998.20 270.2H998.89V474.5H998.20zM998.89 278.1H1000.64V474.5H998.89zM1000.64 290.7H1001.44V474.5H1000.64zM1001.44 287.5H1002.12V474.5H1001.44zM1002.12 291.1H1002.81V474.5H1002.12zM1002.81 292.0H1004.56V474.5H1002.81zM1004.56 304.2H1005.36V474.5H1004.56zM1005.36 301.0H1006.04V474.5H1005.36zM1006.04 304.3H1006.73V474.5H1006.04zM1006.73 313.9H1008.48V474.5H1006.73zM1008.48 334.5H1009.28V474.5H1008.48zM1009.28 335.8H1009.96V474.5H1009.28zM1009.96 350.3H1010.65V474.5H1009.96zM1010.65 356.0H1012.40V474.5H1010.65zM1012.40 367.2H1013.20V474.5H1012.40zM1013.20 368.0H1013.88V474.5H1013.20zM1013.88 375.5H1014.57V474.5H1013.88zM1014.57 378.5H1016.32V474.5H1014.57zM1016.32 392.0H1017.12V474.5H1016.32zM1017.12 387.0H1017.80V474.5H1017.12zM1017.80 389.3H1018.49V474.5H1017.80zM1018.49 389.9H1020.24V474.5H1018.49zM1020.24 392.7H1021.04V474.5H1020.24zM1021.04 392.1H1021.72V474.5H1021.04zM1021.72 392.1H1022.41V474.5H1021.72zM1022.41 389.0H1024.16V474.5H1022.41zM1024.16 390.7H1024.96V474.5H1024.16zM1024.96 388.6H1025.64V474.5H1024.96zM1025.64 387.0H1026.33V474.5H1025.64zM1026.33 378.5H1028.08V474.5H1026.33zM1028.08 382.4H1028.88V474.5H1028.08zM1028.88 380.8H1029.56V474.5H1028.88zM1029.56 380.5H1030.25V474.5H1029.56zM1030.25 377.9H1032.00V474.5H1030.25zM1032.00 377.6H1032.80V474.5H1032.00zM1032.80 376.6H1033.48V474.5H1032.80zM1033.48 376.0H1034.17V474.5H1033.48zM1034.17 372.0H1035.92V474.5H1034.17zM1035.92 373.8H1036.72V474.5H1035.92zM1036.72 372.2H1037.40V474.5H1036.72zM1037.40 371.6H1038.09V474.5H1037.40zM1038.09 366.0H1039.84V474.5H1038.09zM1039.84 369.1H1040.64V474.5H1039.84zM1040.64 366.6H1041.32V474.5H1040.64zM1041.32 365.6H1042.01V474.5H1041.32zM1042.01 359.9H1043.76V474.5H1042.01zM1043.76 360.6H1044.56V474.5H1043.76zM1044.56 359.0H1045.24V474.5H1044.56zM1045.24 357.8H1045.93V474.5H1045.24zM1045.93 352.0H1047.68V474.5H1045.93zM1047.68 354.7H1048.48V474.5H1047.68zM1048.48 353.2H1049.16V474.5H1048.48zM1049.16 352.8H1049.85V474.5H1049.16zM1049.85 350.3H1051.60V474.5H1049.85zM1051.60 350.0H1052.40V474.5H1051.60zM1052.40 348.7H1053.08V474.5H1052.40zM1053.08 348.1H1053.77V474.5H1053.08zM1053.77 340.5H1055.52V474.5H1053.77zM1055.52 347.2H1056.32V474.5H1055.52zM1056.32 343.8H1057.00V474.5H1056.32zM1057.00 343.6H1057.69V474.5H1057.00zM1057.69 336.1H1059.44V474.5H1057.69zM1059.44 340.9H1060.24V474.5H1059.44zM1060.24 339.3H1060.92V474.5H1060.24zM1060.92 339.1H1061.61V474.5H1060.92zM1061.61 331.0H1063.36V474.5H1061.61zM1063.36 341.7H1064.16V474.5H1063.36zM1064.16 336.7H1064.84V474.5H1064.16zM1064.84 337.4H1065.53V474.5H1064.84zM1065.53 328.0H1067.28V474.5H1065.53zM1067.28 340.7H1068.08V474.5H1067.28zM1068.08 335.2H1068.76V474.5H1068.08zM1068.76 336.1H1069.45V474.5H1068.76zM1069.45 328.2H1071.20V474.5H1069.45zM1071.20 335.1H1072.00V474.5H1071.20zM1072.00 333.8H1072.68V474.5H1072.00zM1072.68 334.6H1073.37V474.5H1072.68zM1073.37 324.1H1075.12V474.5H1073.37zM1075.12 341.0H1075.92V474.5H1075.12zM1075.92 332.4H1076.60V474.5H1075.92zM1076.60 333.6H1077.29V474.5H1076.60zM1077.29 324.7H1079.04V474.5H1077.29zM1079.04 337.6H1079.84V474.5H1079.04zM1079.84 331.9H1080.52V474.5H1079.84zM1080.52 332.9H1081.21V474.5H1080.52zM1081.21 323.1H1082.96V474.5H1081.21zM1082.96 335.2H1083.76V474.5H1082.96zM1083.76 329.5H1084.44V474.5H1083.76zM1084.44 330.6H1085.13V474.5H1084.44zM1085.13 325.1H1086.88V474.5H1085.13zM1086.88 333.8H1087.68V474.5H1086.88zM1087.68 330.3H1088.36V474.5H1087.68zM1088.36 331.0H1089.05V474.5H1088.36zM1089.05 312.4H1090.80V474.5H1089.05zM1090.80 336.5H1091.60V474.5H1090.80zM1091.60 328.6H1092.28V474.5H1091.60zM1092.28 331.1H1092.97V474.5H1092.28zM1092.97 324.1H1094.72V474.5H1092.97zM1094.72 330.6H1095.52V474.5H1094.72zM1095.52 328.3H1096.20V474.5H1095.52zM1096.20 329.0H1096.89V474.5H1096.20zM1096.89 317.5H1098.64V474.5H1096.89zM1098.64 330.3H1099.44V474.5H1098.64zM1099.44 328.7H1100.12V474.5H1099.44zM1100.12 330.2H1100.81V474.5H1100.12zM1100.81 321.0H1102.56V474.5H1100.81zM1102.56 329.5H1103.36V474.5H1102.56zM1103.36 328.3H1104.04V474.5H1103.36zM1104.04 329.3H1104.73V474.5H1104.04zM1104.73 326.2H1106.48V474.5H1104.73zM1106.48 328.1H1107.28V474.5H1106.48zM1107.28 327.5H1107.96V474.5H1107.28zM1107.96 327.6H1108.65V474.5H1107.96zM1108.65 312.4H1110.40V474.5H1108.65zM1110.40 329.1H1111.20V474.5H1110.40zM1111.20 323.7H1111.88V474.5H1111.20zM1111.88 325.7H1112.57V474.5H1111.88zM1112.57 315.9H1114.32V474.5H1112.57zM1114.32 331.2H1115.12V474.5H1114.32zM1115.12 327.7H1115.80V474.5H1115.12zM1115.80 329.9H1116.49V474.5H1115.80zM1116.49 325.1H1118.24V474.5H1116.49zM1118.24 339.5H1119.04V474.5H1118.24zM1119.04 329.4H1119.72V474.5H1119.04zM1119.72 330.7H1120.41V474.5H1119.72zM1120.41 313.8H1122.16V474.5H1120.41zM1122.16 348.2H1122.96V474.5H1122.16zM1122.96 329.0H1123.64V474.5H1122.96zM1123.64 332.7H1124.33V474.5H1123.64zM1124.33 321.0H1126.08V474.5H1124.33zM1126.08 344.6H1126.88V474.5H1126.08zM1126.88 330.4H1127.56V474.5H1126.88zM1127.56 330.9H1128.25V474.5H1127.56zM1128.25 324.1H1130.00V474.5H1128.25zM1130.00 330.7H1130.80V474.5H1130.00zM1130.80 327.6H1131.48V474.5H1130.80zM1131.48 328.1H1132.17V474.5H1131.48zM1132.17 305.0H1133.92V474.5H1132.17zM1133.92 340.3H1134.72V474.5H1133.92zM1134.72 322.5H1135.40V474.5H1134.72zM1135.40 325.6H1136.09V474.5H1135.40zM1136.09 317.5H1137.84V474.5H1136.09zM1137.84 331.3H1138.64V474.5H1137.84zM1138.64 323.0H1139.32V474.5H1138.64zM1139.32 324.3H1140.01V474.5H1139.32zM1140.01 313.8H1141.76V474.5H1140.01zM1141.76 334.5H1142.56V474.5H1141.76zM1142.56 322.4H1143.24V474.5H1142.56zM1143.24 324.1H1143.93V474.5H1143.24zM1143.93 317.0H1145.68V474.5H1143.93zM1145.68 333.2H1146.48V474.5H1145.68zM1146.48 324.9H1147.16V474.5H1146.48zM1147.16 326.1H1147.85V474.5H1147.16zM1147.85 317.5H1149.60V474.5H1147.85zM1149.60 331.0H1150.40V474.5H1149.60zM1150.40 323.1H1151.08V474.5H1150.40zM1151.08 323.9H1151.77V474.5H1151.08zM1151.77 323.1H1153.52V474.5H1151.77zM1153.52 324.8H1154.32V474.5H1153.52zM1154.32 323.4H1155.00V474.5H1154.32zM1155.00 323.2H1155.69V474.5H1155.00zM1155.69 310.8H1157.44V474.5H1155.69zM1157.44 326.6H1158.24V474.5H1157.44zM1158.24 319.4H1158.92V474.5H1158.24zM1158.92 320.6H1159.61V474.5H1158.92zM1159.61 307.3H1161.36V474.5H1159.61zM1161.36 325.5H1162.16V474.5H1161.36zM1162.16 319.9H1162.84V474.5H1162.16zM1162.84 321.5H1163.53V474.5H1162.84zM1163.53 304.0H1165.28V474.5H1163.53zM1165.28 324.3H1166.08V474.5H1165.28zM1166.08 319.3H1166.77V474.5H1166.08zM1166.77 321.3H1167.45V474.5H1166.77zM1167.45 310.8H1169.20V474.5H1167.45zM1169.20 320.2H1170.00V474.5H1169.20zM1170.00 315.0H1170.69V474.5H1170.00zM1170.69 315.9H1171.37V474.5H1170.69zM1171.37 314.9H1173.12V474.5H1171.37zM1173.12 317.7H1173.92V474.5H1173.12zM1173.92 316.6H1174.61V474.5H1173.92zM1174.61 316.8H1175.29V474.5H1174.61zM1175.29 307.3H1177.04V474.5H1175.29zM1177.04 319.6H1177.84V474.5H1177.04zM1177.84 313.6H1178.53V474.5H1177.84zM1178.53 314.7H1179.21V474.5H1178.53zM1179.21 310.8H1180.96V474.5H1179.21zM1180.96 316.1H1181.76V474.5H1180.96zM1181.76 313.9H1182.45V474.5H1181.76zM1182.45 314.4H1183.13V474.5H1182.45zM1183.13 303.6H1184.88V474.5H1183.13zM1184.88 322.1H1185.68V474.5H1184.88zM1185.68 311.6H1186.37V474.5H1185.68zM1186.37 313.0H1187.05V474.5H1186.37zM1187.05 308.7H1188.80V474.5H1187.05zM1188.80 321.0H1189.60V474.5H1188.80zM1189.60 312.8H1190.29V474.5H1189.60zM1190.29 313.3H1190.97V474.5H1190.29zM1190.97 308.7H1192.72V474.5H1190.97zM1192.72 315.1H1193.52V474.5H1192.72zM1193.52 311.4H1194.21V474.5H1193.52zM1194.21 311.8H1194.89V474.5H1194.21zM1194.89 300.5H1196.64V474.5H1194.89zM1196.64 316.4H1197.44V474.5H1196.64zM1197.44 309.4H1198.13V474.5H1197.44zM1198.13 310.8H1198.81V474.5H1198.13zM1198.81 305.6H1200.56V474.5H1198.81zM1200.56 313.0H1201.36V474.5H1200.56zM1201.36 309.0H1202.05V474.5H1201.36zM1202.05 309.5H1202.73V474.5H1202.05zM1202.73 303.6H1204.48V474.5H1202.73zM1204.48 311.2H1205.28V474.5H1204.48zM1205.28 309.2H1205.97V474.5H1205.28zM1205.97 309.9H1206.65V474.5H1205.97zM1206.65 293.3H1208.40V474.5H1206.65zM1208.40 320.5H1209.20V474.5H1208.40zM1209.20 308.1H1209.89V474.5H1209.20zM1209.89 310.1H1210.57V474.5H1209.89zM1210.57 297.4H1212.32V474.5H1210.57zM1212.32 307.9H1213.12V474.5H1212.32zM1213.12 304.4H1213.81V474.5H1213.12zM1213.81 305.7H1214.49V474.5H1213.81zM1214.49 295.4H1216.24V474.5H1214.49zM1216.24 307.0H1217.04V474.5H1216.24zM1217.04 304.3H1217.73V474.5H1217.04zM1217.73 305.7H1218.41V474.5H1217.73zM1218.41 302.6H1220.16V474.5H1218.41zM1220.16 307.4H1220.96V474.5H1220.16zM1220.96 305.3H1221.65V474.5H1220.96zM1221.65 305.6H1222.33V474.5H1221.65zM1222.33 293.3H1224.08V474.5H1222.33zM1224.08 305.9H1224.88V474.5H1224.08zM1224.88 304.5H1225.57V474.5H1224.88zM1225.57 306.1H1226.25V474.5H1225.57zM1226.25 293.3H1228.00V474.5H1226.25zM1228.00 315.0H1228.80V474.5H1228.00zM1228.80 300.1H1229.49V474.5H1228.80zM1229.49 301.6H1230.17V474.5H1229.49zM1230.17 291.7H1231.92V474.5H1230.17zM1231.92 304.5H1232.72V474.5H1231.92zM1232.72 301.8H1233.41V474.5H1232.72zM1233.41 303.5H1234.09V474.5H1233.41zM1234.09 298.5H1235.84V474.5H1234.09zM1235.84 304.8H1236.64V474.5H1235.84zM1236.64 303.2H1237.33V474.5H1236.64zM1237.33 303.9H1238.01V474.5H1237.33zM1238.01 288.2H1239.76V474.5H1238.01zM1239.76 307.1H1240.56V474.5H1239.76zM1240.56 296.9H1241.25V474.5H1240.56zM1241.25 298.8H1241.93V474.5H1241.25zM1241.93 288.2H1243.68V474.5H1241.93zM1243.68 315.0H1244.48V474.5H1243.68zM1244.48 300.7H1245.17V474.5H1244.48zM1245.17 302.5H1245.85V474.5H1245.17zM1245.85 296.4H1247.60V474.5H1245.85zM1247.60 303.2H1248.40V474.5H1247.60zM1248.40 299.3H1249.09V474.5H1248.40zM1249.09 299.9H1249.77V474.5H1249.09zM1249.77 284.7H1251.52V474.5H1249.77zM1251.52 305.6H1252.32V474.5H1251.52zM1252.32 300.8H1253.01V474.5H1252.32zM1253.01 302.9H1253.69V474.5H1253.01zM1253.69 290.3H1255.44V474.5H1253.69zM1255.44 300.8H1256.24V474.5H1255.44zM1256.24 295.5H1256.93V474.5H1256.24zM1256.93 296.7H1257.61V474.5H1256.93zM1257.61 283.1H1259.36V474.5H1257.61zM1259.36 305.1H1260.16V474.5H1259.36zM1260.16 293.7H1260.85V474.5H1260.16zM1260.85 295.8H1261.53V474.5H1260.85zM1261.53 287.2H1263.28V474.5H1261.53zM1263.28 301.7H1264.08V474.5H1263.28zM1264.08 293.3H1264.77V474.5H1264.08zM1264.77 294.7H1265.45V474.5H1264.77zM1265.45 288.2H1267.20V474.5H1265.45zM1267.20 298.6H1268.00V474.5H1267.20zM1268.00 294.2H1268.69V474.5H1268.00zM1268.69 295.3H1269.37V474.5H1268.69zM1269.37 281.4H1271.12V474.5H1269.37zM1271.12 300.7H1271.92V474.5H1271.12zM1271.92 292.5H1272.61V474.5H1271.92zM1272.61 294.5H1273.29V474.5H1272.61zM1273.29 276.3H1275.04V474.5H1273.29zM1275.04 300.9H1275.84V474.5H1275.04zM1275.84 290.1H1276.53V474.5H1275.84zM1276.53 292.6H1277.21V474.5H1276.53zM1277.21 277.9H1278.96V474.5H1277.21zM1278.96 300.8H1279.76V474.5H1278.96zM1279.76 289.2H1280.45V474.5H1279.76zM1280.45 291.4H1281.13V474.5H1280.45zM1281.13 282.1H1282.88V474.5H1281.13zM1282.88 302.2H1283.68V474.5H1282.88zM1283.68 290.2H1284.37V474.5H1283.68zM1284.37 291.7H1285.05V474.5H1284.37zM1285.05 277.9H1286.80V474.5H1285.05zM1286.80 293.9H1287.60V474.5H1286.80zM1287.60 291.2H1288.29V474.5H1287.60zM1288.29 293.0H1288.97V474.5H1288.29zM1288.97 277.9H1290.72V474.5H1288.97zM1290.72 297.4H1291.52V474.5H1290.72zM1291.52 286.2H1292.21V474.5H1291.52zM1292.21 288.0H1292.89V474.5H1292.21zM1292.89 283.1H1294.64V474.5H1292.89zM1294.64 295.5H1295.44V474.5H1294.64zM1295.44 289.9H1296.13V474.5H1295.44zM1296.13 290.9H1296.81V474.5H1296.13zM1296.81 279.6H1298.56V474.5H1296.81zM1298.56 290.5H1299.36V474.5H1298.56zM1299.36 287.4H1300.05V474.5H1299.36zM1300.05 288.8H1300.73V474.5H1300.05zM1300.73 288.2H1302.48V474.5H1300.73zM1302.48 289.5H1303.28V474.5H1302.48zM1303.28 288.8H1303.97V474.5H1303.28zM1303.97 288.8H1304.65V474.5H1303.97zM1304.65 279.6H1306.40V474.5H1304.65zM1306.40 293.8H1307.20V474.5H1306.40zM1307.20 284.9H1307.89V474.5H1307.20zM1307.89 286.0H1308.57V474.5H1307.89zM1308.57 274.5H1310.32V474.5H1308.57zM1310.32 290.3H1311.12V474.5H1310.32zM1311.12 287.3H1311.81V474.5H1311.12zM1311.81 288.9H1312.49V474.5H1311.81zM1312.49 274.5H1314.24V474.5H1312.49zM1314.24 290.3H1315.04V474.5H1314.24zM1315.04 284.7H1315.73V474.5H1315.04zM1315.73 286.2H1316.41V474.5H1315.73zM1316.41 269.7H1318.16V474.5H1316.41zM1318.16 287.3H1318.96V474.5H1318.16zM1318.96 281.2H1319.65V474.5H1318.96zM1319.65 283.2H1320.33V474.5H1319.65zM1320.33 276.3H1322.08V474.5H1320.33zM1322.08 288.6H1322.88V474.5H1322.08zM1322.88 281.9H1323.57V474.5H1322.88zM1323.57 283.4H1324.25V474.5H1323.57zM1324.25 274.5H1326.00V474.5H1324.25zM1326.00 291.6H1326.80V474.5H1326.00zM1326.80 287.5H1327.49V474.5H1326.80zM1327.49 289.5H1328.17V474.5H1327.49zM1328.17 277.9H1329.92V474.5H1328.17zM1329.92 304.6H1330.72V474.5H1329.92zM1330.72 287.1H1331.41V474.5H1330.72zM1331.41 289.0H1332.09V474.5H1331.41zM1332.09 280.0H1333.84V474.5H1332.09zM1333.84 297.3H1334.64V474.5H1333.84zM1334.64 288.1H1335.33V474.5H1334.64zM1335.33 290.0H1336.02V474.5H1335.33zM1336.02 284.7H1337.77V474.5H1336.02zM1337.77 294.8H1338.57V474.5H1337.77zM1338.57 291.2H1339.25V474.5H1338.57zM1339.25 292.8H1339.94V474.5H1339.25zM1339.94 282.8H1341.69V474.5H1339.94zM1341.69 300.1H1342.49V474.5H1341.69zM1342.49 295.1H1343.17V474.5H1342.49zM1343.17 297.2H1343.86V474.5H1343.17zM1343.86 288.2H1345.61V474.5H1343.86zM1345.61 314.0H1346.41V474.5H1345.61zM1346.41 297.2H1347.09V474.5H1346.41zM1347.09 298.3H1347.78V474.5H1347.09zM1347.78 284.7H1349.53V474.5H1347.78zM1349.53 296.5H1350.33V474.5H1349.53zM1350.33 292.1H1351.01V474.5H1350.33zM1351.01 293.1H1351.70V474.5H1351.01zM1351.70 274.6H1353.45V474.5H1351.70zM1353.45 286.5H1354.25V474.5H1353.45zM1354.25 279.7H1354.93V474.5H1354.25zM1354.93 277.4H1355.62V474.5H1354.93zM1355.62 265.4H1357.37V474.5H1355.62zM1357.37 298.0H1358.17V474.5H1357.37zM1358.17 258.9H1358.85V474.5H1358.17zM1358.85 254.9H1359.54V474.5H1358.85zM1359.54 240.8H1361.29V474.5H1359.54zM1361.29 242.8H1362.09V474.5H1361.29zM1362.09 241.4H1362.77V474.5H1362.09zM1362.77 240.4H1363.46V474.5H1362.77zM1363.46 217.8H1365.21V474.5H1363.46zM1365.21 243.0H1366.01V474.5H1365.21zM1366.01 229.9H1366.69V474.5H1366.01zM1366.69 238.0H1367.38V474.5H1366.69zM1367.38 252.4H1369.13V474.5H1367.38zM1369.13 276.8H1369.93V474.5H1369.13zM1369.93 272.8H1370.61V474.5H1369.93zM1370.61 282.7H1371.30V474.5H1370.61zM1371.30 283.8H1373.05V474.5H1371.30zM1373.05 311.4H1373.85V474.5H1373.05zM1373.85 302.0H1374.53V474.5H1373.85zM1374.53 306.0H1375.22V474.5H1374.53zM1375.22 309.7H1376.97V474.5H1375.22zM1376.97 313.7H1377.77V474.5H1376.97zM1377.77 314.5H1378.45V474.5H1377.77zM1378.45 317.2H1379.14V474.5H1378.45zM1379.14 319.7H1380.89V474.5H1379.14zM1380.89 331.3H1381.69V474.5H1380.89zM1381.69 329.3H1382.37V474.5H1381.69zM1382.37 334.6H1383.06V474.5H1382.37zM1383.06 333.3H1384.81V474.5H1383.06zM1384.81 328.8H1385.61V474.5H1384.81zM1385.61 326.1H1386.29V474.5H1385.61zM1386.29 324.4H1386.98V474.5H1386.29zM1386.98 317.7H1388.73V474.5H1386.98zM1388.73 318.2H1389.53V474.5H1388.73zM1389.53 316.3H1390.21V474.5H1389.53zM1390.21 314.8H1390.90V474.5H1390.21zM1390.90 305.4H1392.65V474.5H1390.90zM1392.65 309.5H1393.45V474.5H1392.65zM1393.45 307.3H1394.13V474.5H1393.45zM1394.13 306.8H1394.82V474.5H1394.13zM1394.82 303.9H1396.57V474.5H1394.82zM1396.57 303.6H1397.37V474.5H1396.57zM1397.37 301.8H1398.05V474.5H1397.37zM1398.05 301.0H1398.74V474.5H1398.05zM1398.74 295.0H1400.49V474.5H1398.74zM1400.49 299.0H1401.29V474.5H1400.49zM1401.29 296.0H1401.97V474.5H1401.29zM1401.97 295.5H1402.66V474.5H1401.97zM1402.66 279.7H1404.41V474.5H1402.66zM1404.41 297.1H1405.21V474.5H1404.41zM1405.21 287.9H1405.89V474.5H1405.21zM1405.89 289.9H1406.58V474.5H1405.89zM1406.58 279.7H1408.33V474.5H1406.58zM1408.33 305.4H1409.13V474.5H1408.33zM1409.13 294.2H1409.81V474.5H1409.13zM1409.81 296.2H1410.50V474.5H1409.81zM1410.50 277.7H1412.25V474.5H1410.50zM1412.25 298.5H1413.05V474.5H1412.25zM1413.05 292.1H1413.73V474.5H1413.05zM1413.73 294.4H1414.42V474.5H1413.73zM1414.42 286.9H1416.17V474.5H1414.42zM1416.17 294.4H1416.97V474.5H1416.17zM1416.97 292.9H1417.65V474.5H1416.97zM1417.65 293.9H1418.34V474.5H1417.65zM1418.34 270.9H1420.09V474.5H1418.34zM1420.09 294.0H1420.89V474.5H1420.09zM1420.89 285.9H1421.57V474.5H1420.89zM1421.57 289.1H1422.26V474.5H1421.57zM1422.26 272.6H1424.01V474.5H1422.26zM1424.01 298.4H1424.81V474.5H1424.01zM1424.81 288.0H1425.49V474.5H1424.81zM1425.49 290.9H1426.18V474.5H1425.49zM1426.18 290.0H1427.93V474.5H1426.18zM1427.93 293.7H1428.73V474.5H1427.93zM1428.73 292.3H1429.41V474.5H1428.73zM1429.41 292.6H1430.10V474.5H1429.41zM1430.10 270.9H1431.85V474.5H1430.10zM1431.85 299.8H1432.65V474.5H1431.85zM1432.65 286.3H1433.33V474.5H1432.65zM1433.33 289.3H1434.02V474.5H1433.33zM1434.02 279.3H1435.77V474.5H1434.02zM1435.77 293.8H1436.57V474.5H1435.77zM1436.57 287.5H1437.25V474.5H1436.57zM1437.25 286.7H1437.94V474.5H1437.25zM1437.94 262.3H1439.69V474.5H1437.94zM1439.69 290.0H1440.49V474.5H1439.69zM1440.49 274.3H1441.17V474.5H1440.49zM1441.17 275.4H1441.86V474.5H1441.17zM1441.86 248.6H1443.61V474.5H1441.86zM1443.61 278.5H1444.41V474.5H1443.61zM1444.41 267.2H1445.09V474.5H1444.41zM1445.09 270.1H1445.78V474.5H1445.09zM1445.78 252.1H1447.53V474.5H1445.78zM1447.53 277.8H1448.33V474.5H1447.53zM1448.33 269.3H1449.01V474.5H1448.33zM1449.01 272.0H1449.70V474.5H1449.01zM1449.70 264.4H1451.45V474.5H1449.70zM1451.45 274.5H1452.25V474.5H1451.45zM1452.25 271.3H1452.93V474.5H1452.25zM1452.93 272.4H1453.62V474.5H1452.93zM1453.62 255.5H1455.37V474.5H1453.62zM1455.37 273.7H1456.17V474.5H1455.37zM1456.17 269.3H1456.85V474.5H1456.17zM1456.85 272.3H1457.54V474.5H1456.85zM1457.54 257.2H1459.29V474.5H1457.54zM1459.29 284.1H1460.09V474.5H1459.29zM1460.09 273.1H1460.77V474.5H1460.09zM1460.77 276.3H1461.46V474.5H1460.77zM1461.46 271.5H1463.21V474.5H1461.46zM1463.21 280.5H1464.01V474.5H1463.21zM1464.01 278.5H1464.69V474.5H1464.01zM1464.69 279.6H1465.38V474.5H1464.69zM1465.38 267.4H1467.13V474.5H1465.38zM1467.13 281.8H1467.93V474.5H1467.13zM1467.93 278.4H1468.61V474.5H1467.93zM1468.61 280.2H1469.30V474.5H1468.61zM1469.30 262.3H1471.05V474.5H1469.30zM1471.05 282.1H1471.85V474.5H1471.05zM1471.85 277.6H1472.53V474.5H1471.85zM1472.53 280.3H1473.22V474.5H1472.53zM1473.22 264.4H1474.97V474.5H1473.22zM1474.97 281.9H1475.77V474.5H1474.97zM1475.77 278.8H1476.45V474.5H1475.77zM1476.45 281.3H1477.14V474.5H1476.45zM1477.14 274.6H1478.89V474.5H1477.14zM1478.89 287.0H1479.69V474.5H1478.89zM1479.69 280.9H1480.37V474.5H1479.69zM1480.37 282.2H1481.06V474.5H1480.37zM1481.06 267.4H1482.81V474.5H1481.06zM1482.81 288.6H1483.61V474.5H1482.81zM1483.61 277.2H1484.29V474.5H1483.61zM1484.29 279.7H1484.98V474.5H1484.29zM1484.98 270.9H1486.73V474.5H1484.98zM1486.73 289.7H1487.53V474.5H1486.73zM1487.53 280.7H1488.21V474.5H1487.53zM1488.21 282.9H1488.90V474.5H1488.21zM1488.90 269.5H1490.65V474.5H1488.90zM1490.65 291.2H1491.45V474.5H1490.65zM1491.45 280.8H1492.13V474.5H1491.45zM1492.13 283.3H1492.82V474.5H1492.13zM1492.82 272.6H1494.57V474.5H1492.82zM1494.57 297.8H1495.37V474.5H1494.57zM1495.37 287.2H1496.05V474.5H1495.37zM1496.05 289.3H1496.74V474.5H1496.05zM1496.74 279.7H1498.49V474.5H1496.74zM1498.49 290.6H1499.29V474.5H1498.49zM1499.29 285.7H1499.97V474.5H1499.29zM1499.97 286.8H1500.66V474.5H1499.97zM1500.66 274.6H1502.41V474.5H1500.66zM1502.41 288.4H1503.20V474.5H1502.41z"/>
<path fill="#3d5c9c" opacity="0.75" d="M140.38 252.6h.6V271.6h-.6zM144.30 252.6h.6V270.9h-.6zM148.22 262.8h.6V270.2h-.6zM152.14 250.5h.6V269.6h-.6zM156.06 245.4h.6V269.1h-.6zM159.98 250.5h.6V268.6h-.6zM163.90 250.5h.6V268.0h-.6zM167.82 226.5h.6V263.8h-.6zM171.74 228.6h.6V259.2h-.6zM175.66 219.7h.6V254.3h-.6zM179.58 237.2h.6V253.8h-.6zM183.50 237.2h.6V261.6h-.6zM187.42 240.3h.6V264.1h-.6zM191.34 252.6h.6V266.4h-.6zM195.26 242.3h.6V268.6h-.6zM199.18 242.3h.6V270.0h-.6zM203.10 254.0h.6V270.0h-.6zM207.02 260.8h.6V270.0h-.6zM210.94 247.4h.6V270.0h-.6zM214.86 245.4h.6V270.1h-.6zM218.78 243.7h.6V270.3h-.6zM222.70 240.3h.6V270.4h-.6zM226.62 243.7h.6V270.6h-.6zM230.54 250.9h.6V270.8h-.6zM234.46 247.4h.6V271.0h-.6zM238.38 254.0h.6V271.1h-.6zM242.30 249.1h.6V271.3h-.6zM246.22 247.0h.6V271.5h-.6zM250.14 249.1h.6V271.7h-.6zM254.06 254.0h.6V271.8h-.6zM257.98 257.7h.6V272.0h-.6zM261.90 247.0h.6V272.1h-.6zM265.82 249.1h.6V272.2h-.6zM269.74 257.7h.6V272.3h-.6zM273.66 252.6h.6V272.4h-.6zM277.58 260.8h.6V272.5h-.6zM281.50 259.3h.6V272.6h-.6zM285.42 254.0h.6V272.7h-.6zM289.34 247.4h.6V272.8h-.6zM293.26 256.1h.6V272.9h-.6zM297.18 262.8h.6V273.0h-.6zM301.10 238.6h.6V272.8h-.6zM305.02 247.4h.6V272.5h-.6zM308.94 266.3h.6V272.2h-.6zM312.87 259.3h.6V271.9h-.6zM316.79 247.0h.6V271.6h-.6zM320.71 264.9h.6V271.3h-.6zM324.63 242.3h.6V270.7h-.6zM328.55 243.7h.6V268.3h-.6zM332.47 247.4h.6V266.0h-.6zM336.39 244.4h.6V263.6h-.6zM340.31 213.0h.6V259.2h-.6zM344.23 230.0h.6V252.6h-.6zM348.15 228.6h.6V259.3h-.6zM352.07 243.7h.6V263.8h-.6zM355.99 255.6h.6V266.7h-.6zM359.91 249.1h.6V269.5h-.6zM363.83 240.3h.6V272.1h-.6zM367.75 257.7h.6V274.0h-.6zM371.67 258.5h.6V274.0h-.6zM375.59 259.7h.6V274.0h-.6zM379.51 259.7h.6V274.0h-.6zM383.43 251.5h.6V272.5h-.6zM387.35 245.4h.6V270.8h-.6zM391.27 247.4h.6V269.8h-.6zM395.19 243.7h.6V269.4h-.6zM399.11 255.6h.6V269.0h-.6zM403.03 250.9h.6V268.6h-.6zM406.95 252.6h.6V268.2h-.6zM410.87 230.0h.6V268.1h-.6zM414.79 242.3h.6V268.2h-.6zM418.71 240.3h.6V268.4h-.6zM422.63 245.4h.6V268.5h-.6zM426.55 250.5h.6V268.6h-.6zM430.47 243.7h.6V268.8h-.6zM434.39 255.6h.6V268.9h-.6zM438.31 254.0h.6V269.2h-.6zM442.23 252.6h.6V270.4h-.6zM446.15 252.6h.6V271.5h-.6zM450.07 249.5h.6V272.7h-.6zM453.99 249.5h.6V273.9h-.6zM457.91 260.8h.6V275.0h-.6zM461.83 264.9h.6V275.2h-.6zM465.75 261.1h.6V275.3h-.6zM469.67 255.6h.6V275.5h-.6zM473.59 260.8h.6V275.6h-.6zM477.51 265.9h.6V275.8h-.6zM481.43 260.8h.6V275.9h-.6zM485.35 260.8h.6V275.8h-.6zM489.27 247.4h.6V273.2h-.6zM493.19 240.3h.6V270.6h-.6zM497.11 253.6h.6V269.8h-.6zM501.03 252.6h.6V269.4h-.6zM504.95 252.6h.6V269.1h-.6zM508.87 238.6h.6V268.8h-.6zM512.79 257.7h.6V268.5h-.6zM516.71 245.4h.6V268.2h-.6zM520.63 254.6h.6V267.9h-.6zM524.55 255.6h.6V267.7h-.6zM528.47 235.1h.6V267.5h-.6zM532.39 239.2h.6V267.3h-.6zM536.31 247.4h.6V267.0h-.6zM540.23 244.4h.6V266.8h-.6zM544.15 252.6h.6V266.6h-.6zM548.07 243.7h.6V266.4h-.6zM551.99 243.7h.6V266.2h-.6zM555.91 237.2h.6V262.5h-.6zM559.83 214.6h.6V247.2h-.6zM563.75 211.1h.6V242.6h-.6zM567.67 208.5h.6V240.2h-.6zM571.59 200.7h.6V238.8h-.6zM575.51 236.2h.6V260.5h-.6zM579.43 245.4h.6V265.2h-.6zM583.35 255.6h.6V268.1h-.6zM587.27 247.4h.6V268.7h-.6zM591.19 245.4h.6V269.3h-.6zM595.11 249.5h.6V269.9h-.6zM599.03 270.8h.6V275.5h-.6zM602.95 255.6h.6V271.5h-.6zM606.87 262.6h.6V265.6h-.6zM610.79 247.4h.6V260.1h-.6zM614.71 249.5h.6V254.6h-.6zM618.63 230.0h.6V253.2h-.6zM622.55 239.2h.6V252.3h-.6zM626.47 240.3h.6V259.5h-.6zM630.39 237.2h.6V266.0h-.6zM634.31 247.4h.6V266.3h-.6zM638.23 254.6h.6V266.6h-.6zM642.15 249.5h.6V266.9h-.6zM646.07 255.6h.6V267.2h-.6zM649.99 257.7h.6V267.4h-.6zM653.92 252.6h.6V267.7h-.6zM657.84 254.6h.6V268.0h-.6zM661.76 260.8h.6V268.0h-.6zM665.68 255.6h.6V268.0h-.6zM669.60 250.5h.6V268.0h-.6zM673.52 262.8h.6V268.0h-.6zM677.44 264.9h.6V268.0h-.6zM681.36 254.0h.6V268.0h-.6zM685.28 258.7h.6V268.0h-.6zM689.20 265.0h.6V268.0h-.6zM693.12 240.3h.6V268.0h-.6zM697.04 247.4h.6V268.0h-.6zM700.96 240.3h.6V268.6h-.6zM704.88 249.5h.6V269.3h-.6zM708.80 252.6h.6V270.0h-.6zM712.72 254.6h.6V270.7h-.6zM716.64 247.4h.6V271.4h-.6zM720.56 257.7h.6V274.1h-.6zM724.48 272.1h.6V283.5h-.6zM728.40 252.6h.6V285.5h-.6zM732.32 250.9h.6V281.8h-.6zM736.24 243.7h.6V271.8h-.6zM740.16 249.5h.6V271.2h-.6zM744.08 243.7h.6V270.5h-.6zM748.00 247.4h.6V269.9h-.6zM751.92 238.6h.6V269.2h-.6zM755.84 243.7h.6V268.5h-.6zM759.76 250.5h.6V268.1h-.6zM763.68 259.7h.6V268.3h-.6zM767.60 242.3h.6V268.5h-.6zM771.52 235.1h.6V268.7h-.6zM775.44 243.7h.6V268.9h-.6zM779.36 260.8h.6V269.1h-.6zM783.28 257.7h.6V269.3h-.6zM787.20 260.8h.6V269.5h-.6zM791.12 240.3h.6V269.7h-.6zM795.04 240.3h.6V269.9h-.6zM798.96 238.6h.6V270.4h-.6zM802.88 249.5h.6V271.7h-.6zM806.80 237.2h.6V273.0h-.6zM810.72 249.1h.6V274.3h-.6zM814.64 262.8h.6V275.6h-.6zM818.56 257.7h.6V273.8h-.6zM822.48 252.6h.6V270.0h-.6zM826.40 257.7h.6V270.0h-.6zM830.32 242.3h.6V270.0h-.6zM834.24 240.3h.6V270.0h-.6zM838.16 254.0h.6V270.0h-.6zM842.08 254.0h.6V270.0h-.6zM846.00 247.4h.6V270.0h-.6zM849.92 250.5h.6V270.4h-.6zM853.84 252.6h.6V271.2h-.6zM857.76 249.1h.6V272.0h-.6zM861.68 259.7h.6V272.8h-.6zM865.60 262.8h.6V273.6h-.6zM869.52 259.3h.6V274.4h-.6zM873.44 259.3h.6V275.1h-.6zM877.36 262.8h.6V275.9h-.6zM881.28 264.9h.6V279.6h-.6zM885.20 271.4h.6V283.5h-.6zM889.12 267.9h.6V280.8h-.6zM893.04 262.8h.6V275.7h-.6zM896.96 245.4h.6V274.4h-.6zM900.88 242.3h.6V273.1h-.6zM904.80 260.8h.6V273.3h-.6zM908.72 259.3h.6V275.6h-.6zM912.64 271.4h.6V278.0h-.6zM916.56 254.0h.6V278.5h-.6zM920.48 257.7h.6V279.0h-.6zM924.40 262.8h.6V279.6h-.6zM928.32 270.0h.6V279.9h-.6zM932.24 255.6h.6V278.4h-.6zM936.16 254.0h.6V276.5h-.6zM940.08 259.3h.6V274.5h-.6zM944.00 252.6h.6V272.6h-.6zM947.92 250.5h.6V270.6h-.6zM951.84 240.3h.6V260.5h-.6zM955.76 240.3h.6V253.4h-.6zM959.68 232.1h.6V250.3h-.6zM963.60 235.1h.6V250.8h-.6zM967.52 248.1h.6V251.3h-.6zM971.44 230.0h.6V251.8h-.6zM975.36 238.6h.6V254.3h-.6zM979.28 250.5h.6V257.6h-.6zM983.20 273.1h.6V295.4h-.6zM987.12 262.8h.6V271.5h-.6zM991.04 260.8h.6V269.5h-.6zM994.97 259.3h.6V270.3h-.6zM998.89 278.1h.6V288.3h-.6zM1002.81 292.0h.6V301.8h-.6zM1006.73 313.9h.6V334.2h-.6zM1010.65 356.0h.6V367.1h-.6zM1014.57 378.5h.6V388.6h-.6zM1018.49 389.9h.6V394.5h-.6zM1022.41 389.0h.6V393.0h-.6zM1026.33 378.5h.6V386.1h-.6zM1030.25 377.9h.6V380.9h-.6zM1034.17 372.0h.6V377.0h-.6zM1038.09 366.0h.6V372.2h-.6zM1042.01 359.9h.6V365.1h-.6zM1045.93 352.0h.6V357.6h-.6zM1049.85 350.3h.6V353.3h-.6zM1053.77 340.5h.6V349.0h-.6zM1057.69 336.1h.6V344.2h-.6zM1061.61 331.0h.6V339.8h-.6zM1065.53 328.0h.6V338.5h-.6zM1069.45 328.2h.6V337.3h-.6zM1073.37 324.1h.6V336.2h-.6zM1077.29 324.7h.6V335.1h-.6zM1081.21 323.1h.6V334.0h-.6zM1085.13 325.1h.6V333.3h-.6zM1089.05 312.4h.6V332.7h-.6zM1092.97 324.1h.6V332.0h-.6zM1096.89 317.5h.6V331.4h-.6zM1100.81 321.0h.6V330.7h-.6zM1104.73 326.2h.6V330.1h-.6zM1108.65 312.4h.6V329.5h-.6zM1112.57 315.9h.6V330.3h-.6zM1116.49 325.1h.6V333.1h-.6zM1120.41 313.8h.6V336.7h-.6zM1124.33 321.0h.6V339.2h-.6zM1128.25 324.1h.6V332.2h-.6zM1132.17 305.0h.6V329.7h-.6zM1136.09 317.5h.6V329.3h-.6zM1140.01 313.8h.6V328.9h-.6zM1143.93 317.0h.6V328.5h-.6zM1147.85 317.5h.6V328.1h-.6zM1151.77 323.1h.6V326.7h-.6zM1155.69 310.8h.6V324.7h-.6zM1159.61 307.3h.6V322.8h-.6zM1163.53 304.0h.6V321.5h-.6zM1167.45 310.8h.6V320.6h-.6zM1171.37 314.9h.6V319.7h-.6zM1175.29 307.3h.6V318.9h-.6zM1179.21 310.8h.6V318.0h-.6zM1183.13 303.6h.6V317.0h-.6zM1187.05 308.7h.6V316.0h-.6zM1190.97 308.7h.6V315.0h-.6zM1194.89 300.5h.6V314.1h-.6zM1198.81 305.6h.6V313.1h-.6zM1202.73 303.6h.6V312.1h-.6zM1206.65 293.3h.6V311.1h-.6zM1210.57 297.4h.6V310.1h-.6zM1214.49 295.4h.6V309.2h-.6zM1218.41 302.6h.6V308.2h-.6zM1222.33 293.3h.6V307.5h-.6zM1226.25 293.3h.6V306.9h-.6zM1230.17 291.7h.6V306.3h-.6zM1234.09 298.5h.6V305.8h-.6zM1238.01 288.2h.6V305.2h-.6zM1241.93 288.2h.6V304.4h-.6zM1245.85 296.4h.6V303.7h-.6zM1249.77 284.7h.6V302.9h-.6zM1253.69 290.3h.6V302.1h-.6zM1257.61 283.1h.6V301.3h-.6zM1261.53 287.2h.6V300.5h-.6zM1265.45 288.2h.6V299.7h-.6zM1269.37 281.4h.6V298.9h-.6zM1273.29 276.3h.6V298.0h-.6zM1277.21 277.9h.6V297.0h-.6zM1281.13 282.1h.6V296.0h-.6zM1285.05 277.9h.6V295.0h-.6zM1288.97 277.9h.6V294.0h-.6zM1292.89 283.1h.6V293.2h-.6zM1296.81 279.6h.6V292.5h-.6zM1300.73 288.2h.6V291.7h-.6zM1304.65 279.6h.6V290.9h-.6zM1308.57 274.5h.6V289.8h-.6zM1312.49 274.5h.6V288.8h-.6zM1316.41 269.7h.6V287.7h-.6zM1320.33 276.3h.6V287.8h-.6zM1324.25 274.5h.6V289.0h-.6zM1328.17 277.9h.6V290.3h-.6zM1332.09 280.0h.6V292.6h-.6zM1336.02 284.7h.6V295.0h-.6zM1339.94 282.8h.6V297.3h-.6zM1343.86 288.2h.6V299.5h-.6zM1347.78 284.7h.6V298.7h-.6zM1351.70 274.6h.6V293.0h-.6zM1355.62 265.4h.6V272.6h-.6zM1359.54 240.8h.6V249.5h-.6zM1363.46 217.8h.6V240.0h-.6zM1367.38 252.4h.6V269.8h-.6zM1371.30 283.8h.6V305.9h-.6zM1375.22 309.7h.6V315.2h-.6zM1379.14 319.7h.6V328.8h-.6zM1383.06 333.3h.6V336.3h-.6zM1386.98 317.7h.6V323.2h-.6zM1390.90 305.4h.6V313.8h-.6zM1394.82 303.9h.6V306.9h-.6zM1398.74 295.0h.6V301.5h-.6zM1402.66 279.7h.6V296.6h-.6zM1406.58 279.7h.6V296.0h-.6zM1410.50 277.7h.6V296.0h-.6zM1414.42 286.9h.6V296.0h-.6zM1418.34 270.9h.6V296.0h-.6zM1422.26 272.6h.6V295.6h-.6zM1426.18 290.0h.6V295.1h-.6zM1430.10 270.9h.6V294.6h-.6zM1434.02 279.3h.6V294.1h-.6zM1437.94 262.3h.6V284.2h-.6zM1441.86 248.6h.6V275.6h-.6zM1445.78 252.1h.6V272.6h-.6zM1449.70 264.4h.6V273.4h-.6zM1453.62 255.5h.6V274.8h-.6zM1457.54 257.2h.6V278.1h-.6zM1461.46 271.5h.6V280.4h-.6zM1465.38 267.4h.6V281.3h-.6zM1469.30 262.3h.6V282.2h-.6zM1473.22 264.4h.6V283.2h-.6zM1477.14 274.6h.6V284.5h-.6zM1481.06 267.4h.6V285.8h-.6zM1484.98 270.9h.6V287.1h-.6zM1488.90 269.5h.6V288.2h-.6zM1492.82 272.6h.6V288.8h-.6zM1496.74 279.7h.6V289.4h-.6zM1500.66 274.6h.6V290.0h-.6z"/>
<rect x="139" y="473.9" width="1364.2" height="1" fill="#333" opacity="0.55"/>
<g font-size="20.5" fill="#111" stroke="#111" stroke-width="0.25"><text x="128.3" y="138.7" text-anchor="end">20000</text><text x="128.3" y="224.4" text-anchor="end">15000</text><text x="128.3" y="308.7" text-anchor="end">10000</text><text x="128.3" y="394.6" text-anchor="end">5000</text><text x="128.3" y="479.6" text-anchor="end">0</text></g>
<g font-size="13.7" fill="#111" stroke="#111" stroke-width="0.6"><text transform="translate(139.28 481.0) rotate(-90)" text-anchor="end" dy="0.28em">2016-01-01</text><text transform="translate(153.28 481.0) rotate(-90)" text-anchor="end" dy="0.28em">2016-01-26</text><text transform="translate(167.28 481.0) rotate(-90)" text-anchor="end" dy="0.28em">2016-02-20</text><text transform="translate(181.28 481.0) rotate(-90)" text-anchor="end" dy="0.28em">2016-03-16</text><text transform="translate(195.28 481.0) rotate(-90)" text-anchor="end" dy="0.28em">2016-04-10</text><text transform="translate(209.28 481.0) rotate(-90)" text-anchor="end" dy="0.28em">2016-05-05</text><text transform="translate(223.28 481.0) rotate(-90)" text-anchor="end" dy="0.28em">2016-05-30</text><text transform="translate(237.28 481.0) rotate(-90)" text-anchor="end" dy="0.28em">2016-06-24</text><text transform="translate(251.28 481.0) rotate(-90)" text-anchor="end" dy="0.28em">2016-07-19</text><text transform="translate(265.28 481.0) rotate(-90)" text-anchor="end" dy="0.28em">2016-08-13</text><text transform="translate(279.28 481.0) rotate(-90)" text-anchor="end" dy="0.28em">2016-09-07</text><text transform="translate(293.28 481.0) rotate(-90)" text-anchor="end" dy="0.28em">2016-10-02</text><text transform="translate(307.28 481.0) rotate(-90)" text-anchor="end" dy="0.28em">2016-10-27</text><text transform="translate(321.29 481.0) rotate(-90)" text-anchor="end" dy="0.28em">2016-11-21</text><text transform="translate(335.29 481.0) rotate(-90)" text-anchor="end" dy="0.28em">2016-12-16</text><text transform="translate(349.29 481.0) rotate(-90)" text-anchor="end" dy="0.28em">2017-01-10</text><text transform="translate(363.29 481.0) rotate(-90)" text-anchor="end" dy="0.28em">2017-02-04</text><text transform="translate(377.29 481.0) rotate(-90)" text-anchor="end" dy="0.28em">2017-03-01</text><text transform="translate(391.29 481.0) rotate(-90)" text-anchor="end" dy="0.28em">2017-03-26</text><text transform="translate(405.29 481.0) rotate(-90)" text-anchor="end" dy="0.28em">2017-04-20</text><text transform="translate(419.29 481.0) rotate(-90)" text-anchor="end" dy="0.28em">2017-05-15</text><text transform="translate(433.29 481.0) rotate(-90)" text-anchor="end" dy="0.28em">2017-06-09</text><text transform="translate(447.29 481.0) rotate(-90)" text-anchor="end" dy="0.28em">2017-07-04</text><text transform="translate(461.29 481.0) rotate(-90)" text-anchor="end" dy="0.28em">2017-07-29</text><text transform="translate(475.29 481.0) rotate(-90)" text-anchor="end" dy="0.28em">2017-08-23</text><text transform="translate(489.29 481.0) rotate(-90)" text-anchor="end" dy="0.28em">2017-09-17</text><text transform="translate(503.29 481.0) rotate(-90)" text-anchor="end" dy="0.28em">2017-10-12</text><text transform="translate(517.29 481.0) rotate(-90)" text-anchor="end" dy="0.28em">2017-11-06</text><text transform="translate(531.29 481.0) rotate(-90)" text-anchor="end" dy="0.28em">2017-12-01</text><text transform="translate(545.29 481.0) rotate(-90)" text-anchor="end" dy="0.28em">2017-12-26</text><text transform="translate(559.29 481.0) rotate(-90)" text-anchor="end" dy="0.28em">2018-01-20</text><text transform="translate(573.29 481.0) rotate(-90)" text-anchor="end" dy="0.28em">2018-02-14</text><text transform="translate(587.29 481.0) rotate(-90)" text-anchor="end" dy="0.28em">2018-03-11</text><text transform="translate(601.29 481.0) rotate(-90)" text-anchor="end" dy="0.28em">2018-04-05</text><text transform="translate(615.29 481.0) rotate(-90)" text-anchor="end" dy="0.28em">2018-04-30</text><text transform="translate(629.29 481.0) rotate(-90)" text-anchor="end" dy="0.28em">2018-05-25</text><text transform="translate(643.29 481.0) rotate(-90)" text-anchor="end" dy="0.28em">2018-06-19</text><text transform="translate(657.30 481.0) rotate(-90)" text-anchor="end" dy="0.28em">2018-07-14</text><text transform="translate(671.30 481.0) rotate(-90)" text-anchor="end" dy="0.28em">2018-08-08</text><text transform="translate(685.30 481.0) rotate(-90)" text-anchor="end" dy="0.28em">2018-09-02</text><text transform="translate(699.30 481.0) rotate(-90)" text-anchor="end" dy="0.28em">2018-09-27</text><text transform="translate(713.30 481.0) rotate(-90)" text-anchor="end" dy="0.28em">2018-10-22</text><text transform="translate(727.30 481.0) rotate(-90)" text-anchor="end" dy="0.28em">2018-11-16</text><text transform="translate(741.30 481.0) rotate(-90)" text-anchor="end" dy="0.28em">2018-12-11</text><text transform="translate(755.30 481.0) rotate(-90)" text-anchor="end" dy="0.28em">2019-01-05</text><text transform="translate(769.30 481.0) rotate(-90)" text-anchor="end" dy="0.28em">2019-01-30</text><text transform="translate(783.30 481.0) rotate(-90)" text-anchor="end" dy="0.28em">2019-02-24</text><text transform="translate(797.30 481.0) rotate(-90)" text-anchor="end" dy="0.28em">2019-03-21</text><text transform="translate(811.30 481.0) rotate(-90)" text-anchor="end" dy="0.28em">2019-04-15</text><text transform="translate(825.30 481.0) rotate(-90)" text-anchor="end" dy="0.28em">2019-05-10</text><text transform="translate(839.30 481.0) rotate(-90)" text-anchor="end" dy="0.28em">2019-06-04</text><text transform="translate(853.30 481.0) rotate(-90)" text-anchor="end" dy="0.28em">2019-06-29</text><text transform="translate(867.30 481.0) rotate(-90)" text-anchor="end" dy="0.28em">2019-07-24</text><text transform="translate(881.30 481.0) rotate(-90)" text-anchor="end" dy="0.28em">2019-08-18</text><text transform="translate(895.30 481.0) rotate(-90)" text-anchor="end" dy="0.28em">2019-09-12</text><text transform="translate(909.30 481.0) rotate(-90)" text-anchor="end" dy="0.28em">2019-10-07</text><text transform="translate(923.30 481.0) rotate(-90)" text-anchor="end" dy="0.28em">2019-11-01</text><text transform="translate(937.30 481.0) rotate(-90)" text-anchor="end" dy="0.28em">2019-11-26</text><text transform="translate(951.30 481.0) rotate(-90)" text-anchor="end" dy="0.28em">2019-12-21</text><text transform="translate(965.30 481.0) rotate(-90)" text-anchor="end" dy="0.28em">2020-01-15</text><text transform="translate(979.30 481.0) rotate(-90)" text-anchor="end" dy="0.28em">2020-02-09</text><text transform="translate(993.31 481.0) rotate(-90)" text-anchor="end" dy="0.28em">2020-03-05</text><text transform="translate(1007.31 481.0) rotate(-90)" text-anchor="end" dy="0.28em">2020-03-30</text><text transform="translate(1021.31 481.0) rotate(-90)" text-anchor="end" dy="0.28em">2020-04-24</text><text transform="translate(1035.31 481.0) rotate(-90)" text-anchor="end" dy="0.28em">2020-05-19</text><text transform="translate(1049.31 481.0) rotate(-90)" text-anchor="end" dy="0.28em">2020-06-13</text><text transform="translate(1063.31 481.0) rotate(-90)" text-anchor="end" dy="0.28em">2020-07-08</text><text transform="translate(1077.31 481.0) rotate(-90)" text-anchor="end" dy="0.28em">2020-08-02</text><text transform="translate(1091.31 481.0) rotate(-90)" text-anchor="end" dy="0.28em">2020-08-27</text><text transform="translate(1105.31 481.0) rotate(-90)" text-anchor="end" dy="0.28em">2020-09-21</text><text transform="translate(1119.31 481.0) rotate(-90)" text-anchor="end" dy="0.28em">2020-10-16</text><text transform="translate(1133.31 481.0) rotate(-90)" text-anchor="end" dy="0.28em">2020-11-10</text><text transform="translate(1147.31 481.0) rotate(-90)" text-anchor="end" dy="0.28em">2020-12-05</text><text transform="translate(1161.31 481.0) rotate(-90)" text-anchor="end" dy="0.28em">2020-12-30</text><text transform="translate(1175.31 481.0) rotate(-90)" text-anchor="end" dy="0.28em">2021-01-24</text><text transform="translate(1189.31 481.0) rotate(-90)" text-anchor="end" dy="0.28em">2021-02-18</text><text transform="translate(1203.31 481.0) rotate(-90)" text-anchor="end" dy="0.28em">2021-03-15</text><text transform="translate(1217.31 481.0) rotate(-90)" text-anchor="end" dy="0.28em">2021-04-09</text><text transform="translate(1231.31 481.0) rotate(-90)" text-anchor="end" dy="0.28em">2021-05-04</text><text transform="translate(1245.31 481.0) rotate(-90)" text-anchor="end" dy="0.28em">2021-05-29</text><text transform="translate(1259.31 481.0) rotate(-90)" text-anchor="end" dy="0.28em">2021-06-23</text><text transform="translate(1273.31 481.0) rotate(-90)" text-anchor="end" dy="0.28em">2021-07-18</text><text transform="translate(1287.31 481.0) rotate(-90)" text-anchor="end" dy="0.28em">2021-08-12</text><text transform="translate(1301.31 481.0) rotate(-90)" text-anchor="end" dy="0.28em">2021-09-06</text><text transform="translate(1315.31 481.0) rotate(-90)" text-anchor="end" dy="0.28em">2021-10-01</text><text transform="translate(1329.31 481.0) rotate(-90)" text-anchor="end" dy="0.28em">2021-10-26</text><text transform="translate(1343.32 481.0) rotate(-90)" text-anchor="end" dy="0.28em">2021-11-20</text><text transform="translate(1357.32 481.0) rotate(-90)" text-anchor="end" dy="0.28em">2021-12-15</text><text transform="translate(1371.32 481.0) rotate(-90)" text-anchor="end" dy="0.28em">2022-01-09</text><text transform="translate(1385.32 481.0) rotate(-90)" text-anchor="end" dy="0.28em">2022-02-03</text><text transform="translate(1399.32 481.0) rotate(-90)" text-anchor="end" dy="0.28em">2022-02-28</text><text transform="translate(1413.32 481.0) rotate(-90)" text-anchor="end" dy="0.28em">2022-03-25</text><text transform="translate(1427.32 481.0) rotate(-90)" text-anchor="end" dy="0.28em">2022-04-19</text><text transform="translate(1441.32 481.0) rotate(-90)" text-anchor="end" dy="0.28em">2022-05-14</text><text transform="translate(1455.32 481.0) rotate(-90)" text-anchor="end" dy="0.28em">2022-06-08</text><text transform="translate(1469.32 481.0) rotate(-90)" text-anchor="end" dy="0.28em">2022-07-03</text><text transform="translate(1483.32 481.0) rotate(-90)" text-anchor="end" dy="0.28em">2022-07-28</text><text transform="translate(1497.32 481.0) rotate(-90)" text-anchor="end" dy="0.28em">2022-08-22</text></g>
<text font-size="20.5" fill="#111" stroke="#111" stroke-width="0.25" text-anchor="middle" transform="translate(36.8 337) rotate(-90)">total_ed_visits</text>
<text font-size="20.5" fill="#111" stroke="#111" stroke-width="0.25" text-anchor="middle" x="821" y="599.5">date</text>
</svg>
</body></html>
